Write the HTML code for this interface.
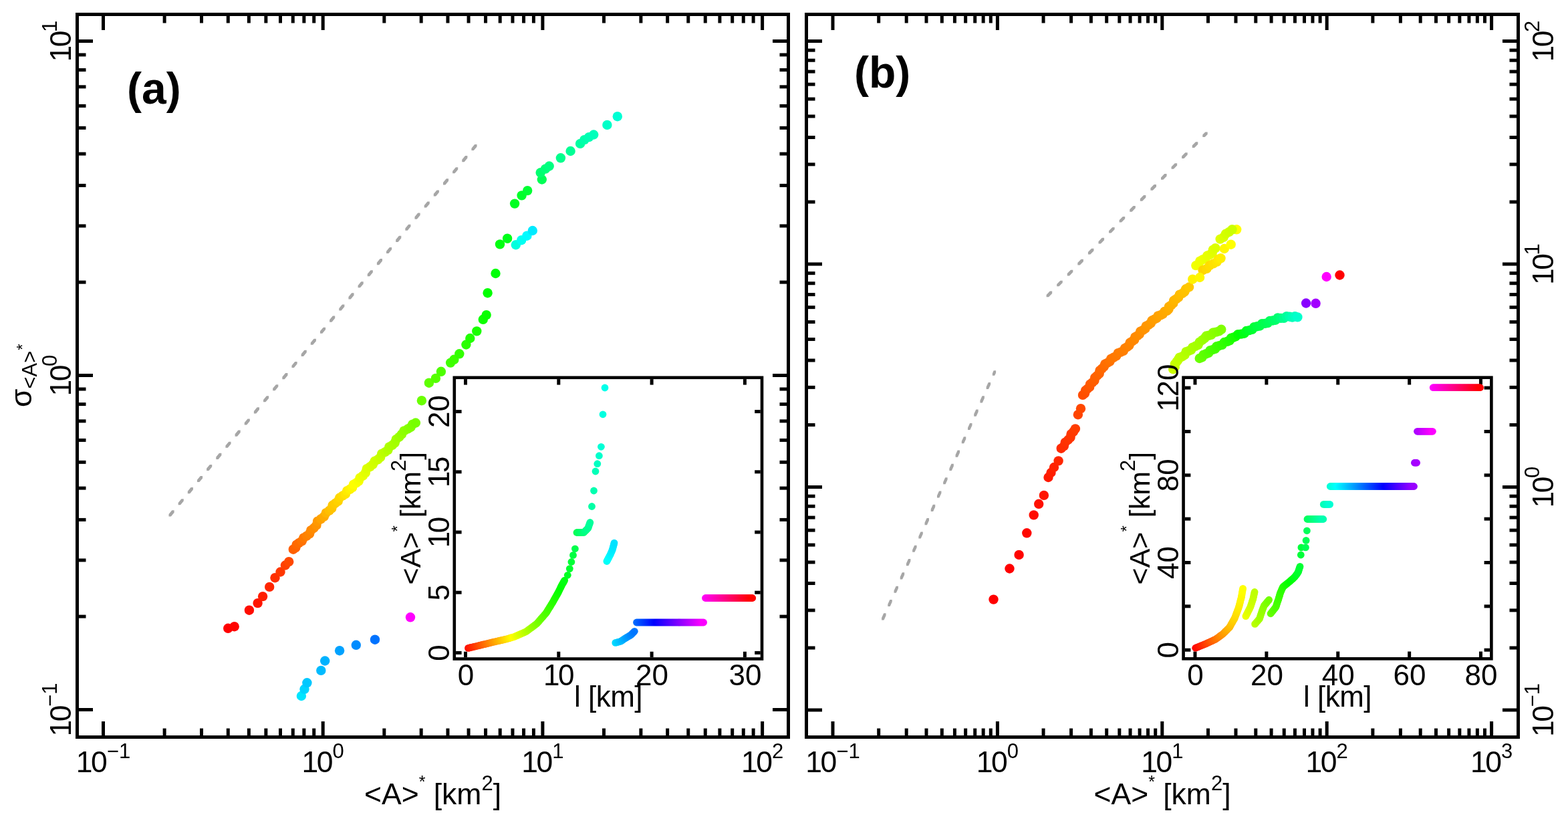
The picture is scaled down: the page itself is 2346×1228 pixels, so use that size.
<!DOCTYPE html>
<html><head><meta charset="utf-8"><title>plot</title><style>html,body{margin:0;padding:0;background:#fff;overflow:hidden}svg{display:block}</style></head><body>
<svg width="2346" height="1228" viewBox="0 0 2346 1228" font-family="'Liberation Sans', sans-serif" shape-rendering="auto">
<rect width="2346" height="1228" fill="#fff"/>
<rect x="115.5" y="21.5" width="1064.0" height="1081.0" fill="none" stroke="#000" stroke-width="5" stroke-linejoin="miter"/>
<line x1="154.50" y1="1100.00" x2="154.50" y2="1079.00" stroke="#000" stroke-width="5" stroke-linecap="butt" />
<line x1="154.50" y1="24.00" x2="154.50" y2="45.00" stroke="#000" stroke-width="5" stroke-linecap="butt" />
<line x1="483.20" y1="1100.00" x2="483.20" y2="1079.00" stroke="#000" stroke-width="5" stroke-linecap="butt" />
<line x1="483.20" y1="24.00" x2="483.20" y2="45.00" stroke="#000" stroke-width="5" stroke-linecap="butt" />
<line x1="811.90" y1="1100.00" x2="811.90" y2="1079.00" stroke="#000" stroke-width="5" stroke-linecap="butt" />
<line x1="811.90" y1="24.00" x2="811.90" y2="45.00" stroke="#000" stroke-width="5" stroke-linecap="butt" />
<line x1="1140.60" y1="1100.00" x2="1140.60" y2="1079.00" stroke="#000" stroke-width="5" stroke-linecap="butt" />
<line x1="1140.60" y1="24.00" x2="1140.60" y2="45.00" stroke="#000" stroke-width="5" stroke-linecap="butt" />
<line x1="246.13" y1="1100.00" x2="246.13" y2="1089.50" stroke="#000" stroke-width="5" stroke-linecap="butt" />
<line x1="246.13" y1="24.00" x2="246.13" y2="34.50" stroke="#000" stroke-width="5" stroke-linecap="butt" />
<line x1="301.48" y1="1100.00" x2="301.48" y2="1089.50" stroke="#000" stroke-width="5" stroke-linecap="butt" />
<line x1="301.48" y1="24.00" x2="301.48" y2="34.50" stroke="#000" stroke-width="5" stroke-linecap="butt" />
<line x1="341.27" y1="1100.00" x2="341.27" y2="1089.50" stroke="#000" stroke-width="5" stroke-linecap="butt" />
<line x1="341.27" y1="24.00" x2="341.27" y2="34.50" stroke="#000" stroke-width="5" stroke-linecap="butt" />
<line x1="372.35" y1="1100.00" x2="372.35" y2="1089.50" stroke="#000" stroke-width="5" stroke-linecap="butt" />
<line x1="372.35" y1="24.00" x2="372.35" y2="34.50" stroke="#000" stroke-width="5" stroke-linecap="butt" />
<line x1="397.86" y1="1100.00" x2="397.86" y2="1089.50" stroke="#000" stroke-width="5" stroke-linecap="butt" />
<line x1="397.86" y1="24.00" x2="397.86" y2="34.50" stroke="#000" stroke-width="5" stroke-linecap="butt" />
<line x1="419.49" y1="1100.00" x2="419.49" y2="1089.50" stroke="#000" stroke-width="5" stroke-linecap="butt" />
<line x1="419.49" y1="24.00" x2="419.49" y2="34.50" stroke="#000" stroke-width="5" stroke-linecap="butt" />
<line x1="438.27" y1="1100.00" x2="438.27" y2="1089.50" stroke="#000" stroke-width="5" stroke-linecap="butt" />
<line x1="438.27" y1="24.00" x2="438.27" y2="34.50" stroke="#000" stroke-width="5" stroke-linecap="butt" />
<line x1="454.87" y1="1100.00" x2="454.87" y2="1089.50" stroke="#000" stroke-width="5" stroke-linecap="butt" />
<line x1="454.87" y1="24.00" x2="454.87" y2="34.50" stroke="#000" stroke-width="5" stroke-linecap="butt" />
<line x1="469.74" y1="1100.00" x2="469.74" y2="1089.50" stroke="#000" stroke-width="5" stroke-linecap="butt" />
<line x1="469.74" y1="24.00" x2="469.74" y2="34.50" stroke="#000" stroke-width="5" stroke-linecap="butt" />
<line x1="574.83" y1="1100.00" x2="574.83" y2="1089.50" stroke="#000" stroke-width="5" stroke-linecap="butt" />
<line x1="574.83" y1="24.00" x2="574.83" y2="34.50" stroke="#000" stroke-width="5" stroke-linecap="butt" />
<line x1="630.18" y1="1100.00" x2="630.18" y2="1089.50" stroke="#000" stroke-width="5" stroke-linecap="butt" />
<line x1="630.18" y1="24.00" x2="630.18" y2="34.50" stroke="#000" stroke-width="5" stroke-linecap="butt" />
<line x1="669.97" y1="1100.00" x2="669.97" y2="1089.50" stroke="#000" stroke-width="5" stroke-linecap="butt" />
<line x1="669.97" y1="24.00" x2="669.97" y2="34.50" stroke="#000" stroke-width="5" stroke-linecap="butt" />
<line x1="701.05" y1="1100.00" x2="701.05" y2="1089.50" stroke="#000" stroke-width="5" stroke-linecap="butt" />
<line x1="701.05" y1="24.00" x2="701.05" y2="34.50" stroke="#000" stroke-width="5" stroke-linecap="butt" />
<line x1="726.56" y1="1100.00" x2="726.56" y2="1089.50" stroke="#000" stroke-width="5" stroke-linecap="butt" />
<line x1="726.56" y1="24.00" x2="726.56" y2="34.50" stroke="#000" stroke-width="5" stroke-linecap="butt" />
<line x1="748.19" y1="1100.00" x2="748.19" y2="1089.50" stroke="#000" stroke-width="5" stroke-linecap="butt" />
<line x1="748.19" y1="24.00" x2="748.19" y2="34.50" stroke="#000" stroke-width="5" stroke-linecap="butt" />
<line x1="766.97" y1="1100.00" x2="766.97" y2="1089.50" stroke="#000" stroke-width="5" stroke-linecap="butt" />
<line x1="766.97" y1="24.00" x2="766.97" y2="34.50" stroke="#000" stroke-width="5" stroke-linecap="butt" />
<line x1="783.57" y1="1100.00" x2="783.57" y2="1089.50" stroke="#000" stroke-width="5" stroke-linecap="butt" />
<line x1="783.57" y1="24.00" x2="783.57" y2="34.50" stroke="#000" stroke-width="5" stroke-linecap="butt" />
<line x1="798.44" y1="1100.00" x2="798.44" y2="1089.50" stroke="#000" stroke-width="5" stroke-linecap="butt" />
<line x1="798.44" y1="24.00" x2="798.44" y2="34.50" stroke="#000" stroke-width="5" stroke-linecap="butt" />
<line x1="903.53" y1="1100.00" x2="903.53" y2="1089.50" stroke="#000" stroke-width="5" stroke-linecap="butt" />
<line x1="903.53" y1="24.00" x2="903.53" y2="34.50" stroke="#000" stroke-width="5" stroke-linecap="butt" />
<line x1="958.88" y1="1100.00" x2="958.88" y2="1089.50" stroke="#000" stroke-width="5" stroke-linecap="butt" />
<line x1="958.88" y1="24.00" x2="958.88" y2="34.50" stroke="#000" stroke-width="5" stroke-linecap="butt" />
<line x1="998.67" y1="1100.00" x2="998.67" y2="1089.50" stroke="#000" stroke-width="5" stroke-linecap="butt" />
<line x1="998.67" y1="24.00" x2="998.67" y2="34.50" stroke="#000" stroke-width="5" stroke-linecap="butt" />
<line x1="1029.75" y1="1100.00" x2="1029.75" y2="1089.50" stroke="#000" stroke-width="5" stroke-linecap="butt" />
<line x1="1029.75" y1="24.00" x2="1029.75" y2="34.50" stroke="#000" stroke-width="5" stroke-linecap="butt" />
<line x1="1055.26" y1="1100.00" x2="1055.26" y2="1089.50" stroke="#000" stroke-width="5" stroke-linecap="butt" />
<line x1="1055.26" y1="24.00" x2="1055.26" y2="34.50" stroke="#000" stroke-width="5" stroke-linecap="butt" />
<line x1="1076.89" y1="1100.00" x2="1076.89" y2="1089.50" stroke="#000" stroke-width="5" stroke-linecap="butt" />
<line x1="1076.89" y1="24.00" x2="1076.89" y2="34.50" stroke="#000" stroke-width="5" stroke-linecap="butt" />
<line x1="1095.67" y1="1100.00" x2="1095.67" y2="1089.50" stroke="#000" stroke-width="5" stroke-linecap="butt" />
<line x1="1095.67" y1="24.00" x2="1095.67" y2="34.50" stroke="#000" stroke-width="5" stroke-linecap="butt" />
<line x1="1112.27" y1="1100.00" x2="1112.27" y2="1089.50" stroke="#000" stroke-width="5" stroke-linecap="butt" />
<line x1="1112.27" y1="24.00" x2="1112.27" y2="34.50" stroke="#000" stroke-width="5" stroke-linecap="butt" />
<line x1="1127.14" y1="1100.00" x2="1127.14" y2="1089.50" stroke="#000" stroke-width="5" stroke-linecap="butt" />
<line x1="1127.14" y1="24.00" x2="1127.14" y2="34.50" stroke="#000" stroke-width="5" stroke-linecap="butt" />
<line x1="118.00" y1="1061.50" x2="139.00" y2="1061.50" stroke="#000" stroke-width="5" stroke-linecap="butt" />
<line x1="1177.00" y1="1061.50" x2="1156.00" y2="1061.50" stroke="#000" stroke-width="5" stroke-linecap="butt" />
<line x1="118.00" y1="561.50" x2="139.00" y2="561.50" stroke="#000" stroke-width="5" stroke-linecap="butt" />
<line x1="1177.00" y1="561.50" x2="1156.00" y2="561.50" stroke="#000" stroke-width="5" stroke-linecap="butt" />
<line x1="118.00" y1="61.50" x2="139.00" y2="61.50" stroke="#000" stroke-width="5" stroke-linecap="butt" />
<line x1="1177.00" y1="61.50" x2="1156.00" y2="61.50" stroke="#000" stroke-width="5" stroke-linecap="butt" />
<line x1="118.00" y1="922.12" x2="128.50" y2="922.12" stroke="#000" stroke-width="5" stroke-linecap="butt" />
<line x1="1177.00" y1="922.12" x2="1166.50" y2="922.12" stroke="#000" stroke-width="5" stroke-linecap="butt" />
<line x1="118.00" y1="837.92" x2="128.50" y2="837.92" stroke="#000" stroke-width="5" stroke-linecap="butt" />
<line x1="1177.00" y1="837.92" x2="1166.50" y2="837.92" stroke="#000" stroke-width="5" stroke-linecap="butt" />
<line x1="118.00" y1="777.40" x2="128.50" y2="777.40" stroke="#000" stroke-width="5" stroke-linecap="butt" />
<line x1="1177.00" y1="777.40" x2="1166.50" y2="777.40" stroke="#000" stroke-width="5" stroke-linecap="butt" />
<line x1="118.00" y1="730.12" x2="128.50" y2="730.12" stroke="#000" stroke-width="5" stroke-linecap="butt" />
<line x1="1177.00" y1="730.12" x2="1166.50" y2="730.12" stroke="#000" stroke-width="5" stroke-linecap="butt" />
<line x1="118.00" y1="691.32" x2="128.50" y2="691.32" stroke="#000" stroke-width="5" stroke-linecap="butt" />
<line x1="1177.00" y1="691.32" x2="1166.50" y2="691.32" stroke="#000" stroke-width="5" stroke-linecap="butt" />
<line x1="118.00" y1="658.41" x2="128.50" y2="658.41" stroke="#000" stroke-width="5" stroke-linecap="butt" />
<line x1="1177.00" y1="658.41" x2="1166.50" y2="658.41" stroke="#000" stroke-width="5" stroke-linecap="butt" />
<line x1="118.00" y1="629.84" x2="128.50" y2="629.84" stroke="#000" stroke-width="5" stroke-linecap="butt" />
<line x1="1177.00" y1="629.84" x2="1166.50" y2="629.84" stroke="#000" stroke-width="5" stroke-linecap="butt" />
<line x1="118.00" y1="604.59" x2="128.50" y2="604.59" stroke="#000" stroke-width="5" stroke-linecap="butt" />
<line x1="1177.00" y1="604.59" x2="1166.50" y2="604.59" stroke="#000" stroke-width="5" stroke-linecap="butt" />
<line x1="118.00" y1="581.98" x2="128.50" y2="581.98" stroke="#000" stroke-width="5" stroke-linecap="butt" />
<line x1="1177.00" y1="581.98" x2="1166.50" y2="581.98" stroke="#000" stroke-width="5" stroke-linecap="butt" />
<line x1="118.00" y1="422.12" x2="128.50" y2="422.12" stroke="#000" stroke-width="5" stroke-linecap="butt" />
<line x1="1177.00" y1="422.12" x2="1166.50" y2="422.12" stroke="#000" stroke-width="5" stroke-linecap="butt" />
<line x1="118.00" y1="337.92" x2="128.50" y2="337.92" stroke="#000" stroke-width="5" stroke-linecap="butt" />
<line x1="1177.00" y1="337.92" x2="1166.50" y2="337.92" stroke="#000" stroke-width="5" stroke-linecap="butt" />
<line x1="118.00" y1="277.40" x2="128.50" y2="277.40" stroke="#000" stroke-width="5" stroke-linecap="butt" />
<line x1="1177.00" y1="277.40" x2="1166.50" y2="277.40" stroke="#000" stroke-width="5" stroke-linecap="butt" />
<line x1="118.00" y1="230.12" x2="128.50" y2="230.12" stroke="#000" stroke-width="5" stroke-linecap="butt" />
<line x1="1177.00" y1="230.12" x2="1166.50" y2="230.12" stroke="#000" stroke-width="5" stroke-linecap="butt" />
<line x1="118.00" y1="191.32" x2="128.50" y2="191.32" stroke="#000" stroke-width="5" stroke-linecap="butt" />
<line x1="1177.00" y1="191.32" x2="1166.50" y2="191.32" stroke="#000" stroke-width="5" stroke-linecap="butt" />
<line x1="118.00" y1="158.41" x2="128.50" y2="158.41" stroke="#000" stroke-width="5" stroke-linecap="butt" />
<line x1="1177.00" y1="158.41" x2="1166.50" y2="158.41" stroke="#000" stroke-width="5" stroke-linecap="butt" />
<line x1="118.00" y1="129.84" x2="128.50" y2="129.84" stroke="#000" stroke-width="5" stroke-linecap="butt" />
<line x1="1177.00" y1="129.84" x2="1166.50" y2="129.84" stroke="#000" stroke-width="5" stroke-linecap="butt" />
<line x1="118.00" y1="104.59" x2="128.50" y2="104.59" stroke="#000" stroke-width="5" stroke-linecap="butt" />
<line x1="1177.00" y1="104.59" x2="1166.50" y2="104.59" stroke="#000" stroke-width="5" stroke-linecap="butt" />
<line x1="118.00" y1="81.98" x2="128.50" y2="81.98" stroke="#000" stroke-width="5" stroke-linecap="butt" />
<line x1="1177.00" y1="81.98" x2="1166.50" y2="81.98" stroke="#000" stroke-width="5" stroke-linecap="butt" />
<rect x="1206.5" y="21.5" width="1065.0" height="1081.0" fill="none" stroke="#000" stroke-width="5" stroke-linejoin="miter"/>
<line x1="1246.00" y1="1100.00" x2="1246.00" y2="1079.00" stroke="#000" stroke-width="5" stroke-linecap="butt" />
<line x1="1246.00" y1="24.00" x2="1246.00" y2="45.00" stroke="#000" stroke-width="5" stroke-linecap="butt" />
<line x1="1492.40" y1="1100.00" x2="1492.40" y2="1079.00" stroke="#000" stroke-width="5" stroke-linecap="butt" />
<line x1="1492.40" y1="24.00" x2="1492.40" y2="45.00" stroke="#000" stroke-width="5" stroke-linecap="butt" />
<line x1="1738.80" y1="1100.00" x2="1738.80" y2="1079.00" stroke="#000" stroke-width="5" stroke-linecap="butt" />
<line x1="1738.80" y1="24.00" x2="1738.80" y2="45.00" stroke="#000" stroke-width="5" stroke-linecap="butt" />
<line x1="1985.20" y1="1100.00" x2="1985.20" y2="1079.00" stroke="#000" stroke-width="5" stroke-linecap="butt" />
<line x1="1985.20" y1="24.00" x2="1985.20" y2="45.00" stroke="#000" stroke-width="5" stroke-linecap="butt" />
<line x1="2231.60" y1="1100.00" x2="2231.60" y2="1079.00" stroke="#000" stroke-width="5" stroke-linecap="butt" />
<line x1="2231.60" y1="24.00" x2="2231.60" y2="45.00" stroke="#000" stroke-width="5" stroke-linecap="butt" />
<line x1="1314.68" y1="1100.00" x2="1314.68" y2="1089.50" stroke="#000" stroke-width="5" stroke-linecap="butt" />
<line x1="1314.68" y1="24.00" x2="1314.68" y2="34.50" stroke="#000" stroke-width="5" stroke-linecap="butt" />
<line x1="1356.18" y1="1100.00" x2="1356.18" y2="1089.50" stroke="#000" stroke-width="5" stroke-linecap="butt" />
<line x1="1356.18" y1="24.00" x2="1356.18" y2="34.50" stroke="#000" stroke-width="5" stroke-linecap="butt" />
<line x1="1386.00" y1="1100.00" x2="1386.00" y2="1089.50" stroke="#000" stroke-width="5" stroke-linecap="butt" />
<line x1="1386.00" y1="24.00" x2="1386.00" y2="34.50" stroke="#000" stroke-width="5" stroke-linecap="butt" />
<line x1="1409.30" y1="1100.00" x2="1409.30" y2="1089.50" stroke="#000" stroke-width="5" stroke-linecap="butt" />
<line x1="1409.30" y1="24.00" x2="1409.30" y2="34.50" stroke="#000" stroke-width="5" stroke-linecap="butt" />
<line x1="1428.43" y1="1100.00" x2="1428.43" y2="1089.50" stroke="#000" stroke-width="5" stroke-linecap="butt" />
<line x1="1428.43" y1="24.00" x2="1428.43" y2="34.50" stroke="#000" stroke-width="5" stroke-linecap="butt" />
<line x1="1444.64" y1="1100.00" x2="1444.64" y2="1089.50" stroke="#000" stroke-width="5" stroke-linecap="butt" />
<line x1="1444.64" y1="24.00" x2="1444.64" y2="34.50" stroke="#000" stroke-width="5" stroke-linecap="butt" />
<line x1="1458.72" y1="1100.00" x2="1458.72" y2="1089.50" stroke="#000" stroke-width="5" stroke-linecap="butt" />
<line x1="1458.72" y1="24.00" x2="1458.72" y2="34.50" stroke="#000" stroke-width="5" stroke-linecap="butt" />
<line x1="1471.16" y1="1100.00" x2="1471.16" y2="1089.50" stroke="#000" stroke-width="5" stroke-linecap="butt" />
<line x1="1471.16" y1="24.00" x2="1471.16" y2="34.50" stroke="#000" stroke-width="5" stroke-linecap="butt" />
<line x1="1482.31" y1="1100.00" x2="1482.31" y2="1089.50" stroke="#000" stroke-width="5" stroke-linecap="butt" />
<line x1="1482.31" y1="24.00" x2="1482.31" y2="34.50" stroke="#000" stroke-width="5" stroke-linecap="butt" />
<line x1="1561.08" y1="1100.00" x2="1561.08" y2="1089.50" stroke="#000" stroke-width="5" stroke-linecap="butt" />
<line x1="1561.08" y1="24.00" x2="1561.08" y2="34.50" stroke="#000" stroke-width="5" stroke-linecap="butt" />
<line x1="1602.58" y1="1100.00" x2="1602.58" y2="1089.50" stroke="#000" stroke-width="5" stroke-linecap="butt" />
<line x1="1602.58" y1="24.00" x2="1602.58" y2="34.50" stroke="#000" stroke-width="5" stroke-linecap="butt" />
<line x1="1632.40" y1="1100.00" x2="1632.40" y2="1089.50" stroke="#000" stroke-width="5" stroke-linecap="butt" />
<line x1="1632.40" y1="24.00" x2="1632.40" y2="34.50" stroke="#000" stroke-width="5" stroke-linecap="butt" />
<line x1="1655.70" y1="1100.00" x2="1655.70" y2="1089.50" stroke="#000" stroke-width="5" stroke-linecap="butt" />
<line x1="1655.70" y1="24.00" x2="1655.70" y2="34.50" stroke="#000" stroke-width="5" stroke-linecap="butt" />
<line x1="1674.83" y1="1100.00" x2="1674.83" y2="1089.50" stroke="#000" stroke-width="5" stroke-linecap="butt" />
<line x1="1674.83" y1="24.00" x2="1674.83" y2="34.50" stroke="#000" stroke-width="5" stroke-linecap="butt" />
<line x1="1691.04" y1="1100.00" x2="1691.04" y2="1089.50" stroke="#000" stroke-width="5" stroke-linecap="butt" />
<line x1="1691.04" y1="24.00" x2="1691.04" y2="34.50" stroke="#000" stroke-width="5" stroke-linecap="butt" />
<line x1="1705.12" y1="1100.00" x2="1705.12" y2="1089.50" stroke="#000" stroke-width="5" stroke-linecap="butt" />
<line x1="1705.12" y1="24.00" x2="1705.12" y2="34.50" stroke="#000" stroke-width="5" stroke-linecap="butt" />
<line x1="1717.56" y1="1100.00" x2="1717.56" y2="1089.50" stroke="#000" stroke-width="5" stroke-linecap="butt" />
<line x1="1717.56" y1="24.00" x2="1717.56" y2="34.50" stroke="#000" stroke-width="5" stroke-linecap="butt" />
<line x1="1728.71" y1="1100.00" x2="1728.71" y2="1089.50" stroke="#000" stroke-width="5" stroke-linecap="butt" />
<line x1="1728.71" y1="24.00" x2="1728.71" y2="34.50" stroke="#000" stroke-width="5" stroke-linecap="butt" />
<line x1="1807.48" y1="1100.00" x2="1807.48" y2="1089.50" stroke="#000" stroke-width="5" stroke-linecap="butt" />
<line x1="1807.48" y1="24.00" x2="1807.48" y2="34.50" stroke="#000" stroke-width="5" stroke-linecap="butt" />
<line x1="1848.98" y1="1100.00" x2="1848.98" y2="1089.50" stroke="#000" stroke-width="5" stroke-linecap="butt" />
<line x1="1848.98" y1="24.00" x2="1848.98" y2="34.50" stroke="#000" stroke-width="5" stroke-linecap="butt" />
<line x1="1878.80" y1="1100.00" x2="1878.80" y2="1089.50" stroke="#000" stroke-width="5" stroke-linecap="butt" />
<line x1="1878.80" y1="24.00" x2="1878.80" y2="34.50" stroke="#000" stroke-width="5" stroke-linecap="butt" />
<line x1="1902.10" y1="1100.00" x2="1902.10" y2="1089.50" stroke="#000" stroke-width="5" stroke-linecap="butt" />
<line x1="1902.10" y1="24.00" x2="1902.10" y2="34.50" stroke="#000" stroke-width="5" stroke-linecap="butt" />
<line x1="1921.23" y1="1100.00" x2="1921.23" y2="1089.50" stroke="#000" stroke-width="5" stroke-linecap="butt" />
<line x1="1921.23" y1="24.00" x2="1921.23" y2="34.50" stroke="#000" stroke-width="5" stroke-linecap="butt" />
<line x1="1937.44" y1="1100.00" x2="1937.44" y2="1089.50" stroke="#000" stroke-width="5" stroke-linecap="butt" />
<line x1="1937.44" y1="24.00" x2="1937.44" y2="34.50" stroke="#000" stroke-width="5" stroke-linecap="butt" />
<line x1="1951.52" y1="1100.00" x2="1951.52" y2="1089.50" stroke="#000" stroke-width="5" stroke-linecap="butt" />
<line x1="1951.52" y1="24.00" x2="1951.52" y2="34.50" stroke="#000" stroke-width="5" stroke-linecap="butt" />
<line x1="1963.96" y1="1100.00" x2="1963.96" y2="1089.50" stroke="#000" stroke-width="5" stroke-linecap="butt" />
<line x1="1963.96" y1="24.00" x2="1963.96" y2="34.50" stroke="#000" stroke-width="5" stroke-linecap="butt" />
<line x1="1975.11" y1="1100.00" x2="1975.11" y2="1089.50" stroke="#000" stroke-width="5" stroke-linecap="butt" />
<line x1="1975.11" y1="24.00" x2="1975.11" y2="34.50" stroke="#000" stroke-width="5" stroke-linecap="butt" />
<line x1="2053.88" y1="1100.00" x2="2053.88" y2="1089.50" stroke="#000" stroke-width="5" stroke-linecap="butt" />
<line x1="2053.88" y1="24.00" x2="2053.88" y2="34.50" stroke="#000" stroke-width="5" stroke-linecap="butt" />
<line x1="2095.38" y1="1100.00" x2="2095.38" y2="1089.50" stroke="#000" stroke-width="5" stroke-linecap="butt" />
<line x1="2095.38" y1="24.00" x2="2095.38" y2="34.50" stroke="#000" stroke-width="5" stroke-linecap="butt" />
<line x1="2125.20" y1="1100.00" x2="2125.20" y2="1089.50" stroke="#000" stroke-width="5" stroke-linecap="butt" />
<line x1="2125.20" y1="24.00" x2="2125.20" y2="34.50" stroke="#000" stroke-width="5" stroke-linecap="butt" />
<line x1="2148.50" y1="1100.00" x2="2148.50" y2="1089.50" stroke="#000" stroke-width="5" stroke-linecap="butt" />
<line x1="2148.50" y1="24.00" x2="2148.50" y2="34.50" stroke="#000" stroke-width="5" stroke-linecap="butt" />
<line x1="2167.63" y1="1100.00" x2="2167.63" y2="1089.50" stroke="#000" stroke-width="5" stroke-linecap="butt" />
<line x1="2167.63" y1="24.00" x2="2167.63" y2="34.50" stroke="#000" stroke-width="5" stroke-linecap="butt" />
<line x1="2183.84" y1="1100.00" x2="2183.84" y2="1089.50" stroke="#000" stroke-width="5" stroke-linecap="butt" />
<line x1="2183.84" y1="24.00" x2="2183.84" y2="34.50" stroke="#000" stroke-width="5" stroke-linecap="butt" />
<line x1="2197.92" y1="1100.00" x2="2197.92" y2="1089.50" stroke="#000" stroke-width="5" stroke-linecap="butt" />
<line x1="2197.92" y1="24.00" x2="2197.92" y2="34.50" stroke="#000" stroke-width="5" stroke-linecap="butt" />
<line x1="2210.36" y1="1100.00" x2="2210.36" y2="1089.50" stroke="#000" stroke-width="5" stroke-linecap="butt" />
<line x1="2210.36" y1="24.00" x2="2210.36" y2="34.50" stroke="#000" stroke-width="5" stroke-linecap="butt" />
<line x1="2221.51" y1="1100.00" x2="2221.51" y2="1089.50" stroke="#000" stroke-width="5" stroke-linecap="butt" />
<line x1="2221.51" y1="24.00" x2="2221.51" y2="34.50" stroke="#000" stroke-width="5" stroke-linecap="butt" />
<line x1="1209.00" y1="1062.00" x2="1230.00" y2="1062.00" stroke="#000" stroke-width="5" stroke-linecap="butt" />
<line x1="2269.00" y1="1062.00" x2="2248.00" y2="1062.00" stroke="#000" stroke-width="5" stroke-linecap="butt" />
<line x1="1209.00" y1="728.50" x2="1230.00" y2="728.50" stroke="#000" stroke-width="5" stroke-linecap="butt" />
<line x1="2269.00" y1="728.50" x2="2248.00" y2="728.50" stroke="#000" stroke-width="5" stroke-linecap="butt" />
<line x1="1209.00" y1="395.00" x2="1230.00" y2="395.00" stroke="#000" stroke-width="5" stroke-linecap="butt" />
<line x1="2269.00" y1="395.00" x2="2248.00" y2="395.00" stroke="#000" stroke-width="5" stroke-linecap="butt" />
<line x1="1209.00" y1="61.50" x2="1230.00" y2="61.50" stroke="#000" stroke-width="5" stroke-linecap="butt" />
<line x1="2269.00" y1="61.50" x2="2248.00" y2="61.50" stroke="#000" stroke-width="5" stroke-linecap="butt" />
<line x1="1209.00" y1="969.04" x2="1219.50" y2="969.04" stroke="#000" stroke-width="5" stroke-linecap="butt" />
<line x1="2269.00" y1="969.04" x2="2258.50" y2="969.04" stroke="#000" stroke-width="5" stroke-linecap="butt" />
<line x1="1209.00" y1="912.87" x2="1219.50" y2="912.87" stroke="#000" stroke-width="5" stroke-linecap="butt" />
<line x1="2269.00" y1="912.87" x2="2258.50" y2="912.87" stroke="#000" stroke-width="5" stroke-linecap="butt" />
<line x1="1209.00" y1="872.50" x2="1219.50" y2="872.50" stroke="#000" stroke-width="5" stroke-linecap="butt" />
<line x1="2269.00" y1="872.50" x2="2258.50" y2="872.50" stroke="#000" stroke-width="5" stroke-linecap="butt" />
<line x1="1209.00" y1="840.97" x2="1219.50" y2="840.97" stroke="#000" stroke-width="5" stroke-linecap="butt" />
<line x1="2269.00" y1="840.97" x2="2258.50" y2="840.97" stroke="#000" stroke-width="5" stroke-linecap="butt" />
<line x1="1209.00" y1="815.09" x2="1219.50" y2="815.09" stroke="#000" stroke-width="5" stroke-linecap="butt" />
<line x1="2269.00" y1="815.09" x2="2258.50" y2="815.09" stroke="#000" stroke-width="5" stroke-linecap="butt" />
<line x1="1209.00" y1="793.14" x2="1219.50" y2="793.14" stroke="#000" stroke-width="5" stroke-linecap="butt" />
<line x1="2269.00" y1="793.14" x2="2258.50" y2="793.14" stroke="#000" stroke-width="5" stroke-linecap="butt" />
<line x1="1209.00" y1="774.08" x2="1219.50" y2="774.08" stroke="#000" stroke-width="5" stroke-linecap="butt" />
<line x1="2269.00" y1="774.08" x2="2258.50" y2="774.08" stroke="#000" stroke-width="5" stroke-linecap="butt" />
<line x1="1209.00" y1="757.24" x2="1219.50" y2="757.24" stroke="#000" stroke-width="5" stroke-linecap="butt" />
<line x1="2269.00" y1="757.24" x2="2258.50" y2="757.24" stroke="#000" stroke-width="5" stroke-linecap="butt" />
<line x1="1209.00" y1="742.16" x2="1219.50" y2="742.16" stroke="#000" stroke-width="5" stroke-linecap="butt" />
<line x1="2269.00" y1="742.16" x2="2258.50" y2="742.16" stroke="#000" stroke-width="5" stroke-linecap="butt" />
<line x1="1209.00" y1="635.54" x2="1219.50" y2="635.54" stroke="#000" stroke-width="5" stroke-linecap="butt" />
<line x1="2269.00" y1="635.54" x2="2258.50" y2="635.54" stroke="#000" stroke-width="5" stroke-linecap="butt" />
<line x1="1209.00" y1="579.37" x2="1219.50" y2="579.37" stroke="#000" stroke-width="5" stroke-linecap="butt" />
<line x1="2269.00" y1="579.37" x2="2258.50" y2="579.37" stroke="#000" stroke-width="5" stroke-linecap="butt" />
<line x1="1209.00" y1="539.00" x2="1219.50" y2="539.00" stroke="#000" stroke-width="5" stroke-linecap="butt" />
<line x1="2269.00" y1="539.00" x2="2258.50" y2="539.00" stroke="#000" stroke-width="5" stroke-linecap="butt" />
<line x1="1209.00" y1="507.47" x2="1219.50" y2="507.47" stroke="#000" stroke-width="5" stroke-linecap="butt" />
<line x1="2269.00" y1="507.47" x2="2258.50" y2="507.47" stroke="#000" stroke-width="5" stroke-linecap="butt" />
<line x1="1209.00" y1="481.59" x2="1219.50" y2="481.59" stroke="#000" stroke-width="5" stroke-linecap="butt" />
<line x1="2269.00" y1="481.59" x2="2258.50" y2="481.59" stroke="#000" stroke-width="5" stroke-linecap="butt" />
<line x1="1209.00" y1="459.64" x2="1219.50" y2="459.64" stroke="#000" stroke-width="5" stroke-linecap="butt" />
<line x1="2269.00" y1="459.64" x2="2258.50" y2="459.64" stroke="#000" stroke-width="5" stroke-linecap="butt" />
<line x1="1209.00" y1="440.58" x2="1219.50" y2="440.58" stroke="#000" stroke-width="5" stroke-linecap="butt" />
<line x1="2269.00" y1="440.58" x2="2258.50" y2="440.58" stroke="#000" stroke-width="5" stroke-linecap="butt" />
<line x1="1209.00" y1="423.74" x2="1219.50" y2="423.74" stroke="#000" stroke-width="5" stroke-linecap="butt" />
<line x1="2269.00" y1="423.74" x2="2258.50" y2="423.74" stroke="#000" stroke-width="5" stroke-linecap="butt" />
<line x1="1209.00" y1="408.66" x2="1219.50" y2="408.66" stroke="#000" stroke-width="5" stroke-linecap="butt" />
<line x1="2269.00" y1="408.66" x2="2258.50" y2="408.66" stroke="#000" stroke-width="5" stroke-linecap="butt" />
<line x1="1209.00" y1="302.04" x2="1219.50" y2="302.04" stroke="#000" stroke-width="5" stroke-linecap="butt" />
<line x1="2269.00" y1="302.04" x2="2258.50" y2="302.04" stroke="#000" stroke-width="5" stroke-linecap="butt" />
<line x1="1209.00" y1="245.87" x2="1219.50" y2="245.87" stroke="#000" stroke-width="5" stroke-linecap="butt" />
<line x1="2269.00" y1="245.87" x2="2258.50" y2="245.87" stroke="#000" stroke-width="5" stroke-linecap="butt" />
<line x1="1209.00" y1="205.50" x2="1219.50" y2="205.50" stroke="#000" stroke-width="5" stroke-linecap="butt" />
<line x1="2269.00" y1="205.50" x2="2258.50" y2="205.50" stroke="#000" stroke-width="5" stroke-linecap="butt" />
<line x1="1209.00" y1="173.97" x2="1219.50" y2="173.97" stroke="#000" stroke-width="5" stroke-linecap="butt" />
<line x1="2269.00" y1="173.97" x2="2258.50" y2="173.97" stroke="#000" stroke-width="5" stroke-linecap="butt" />
<line x1="1209.00" y1="148.09" x2="1219.50" y2="148.09" stroke="#000" stroke-width="5" stroke-linecap="butt" />
<line x1="2269.00" y1="148.09" x2="2258.50" y2="148.09" stroke="#000" stroke-width="5" stroke-linecap="butt" />
<line x1="1209.00" y1="126.14" x2="1219.50" y2="126.14" stroke="#000" stroke-width="5" stroke-linecap="butt" />
<line x1="2269.00" y1="126.14" x2="2258.50" y2="126.14" stroke="#000" stroke-width="5" stroke-linecap="butt" />
<line x1="1209.00" y1="107.08" x2="1219.50" y2="107.08" stroke="#000" stroke-width="5" stroke-linecap="butt" />
<line x1="2269.00" y1="107.08" x2="2258.50" y2="107.08" stroke="#000" stroke-width="5" stroke-linecap="butt" />
<line x1="1209.00" y1="90.24" x2="1219.50" y2="90.24" stroke="#000" stroke-width="5" stroke-linecap="butt" />
<line x1="2269.00" y1="90.24" x2="2258.50" y2="90.24" stroke="#000" stroke-width="5" stroke-linecap="butt" />
<line x1="1209.00" y1="75.16" x2="1219.50" y2="75.16" stroke="#000" stroke-width="5" stroke-linecap="butt" />
<line x1="2269.00" y1="75.16" x2="2258.50" y2="75.16" stroke="#000" stroke-width="5" stroke-linecap="butt" />
<text x="154.5" y="1155" font-size="44.5" text-anchor="middle"><tspan letter-spacing="-2.5">10</tspan><tspan font-size="31" dx="1.5" dy="-21.5">−1</tspan></text>
<text x="483.2" y="1155" font-size="44.5" text-anchor="middle"><tspan letter-spacing="-2.5">10</tspan><tspan font-size="31" dx="1.5" dy="-21.5">0</tspan></text>
<text x="811.9" y="1155" font-size="44.5" text-anchor="middle"><tspan letter-spacing="-2.5">10</tspan><tspan font-size="31" dx="1.5" dy="-21.5">1</tspan></text>
<text x="1140.6" y="1155" font-size="44.5" text-anchor="middle"><tspan letter-spacing="-2.5">10</tspan><tspan font-size="31" dx="1.5" dy="-21.5">2</tspan></text>
<text x="1246.0" y="1155" font-size="44.5" text-anchor="middle"><tspan letter-spacing="-2.5">10</tspan><tspan font-size="31" dx="1.5" dy="-21.5">−1</tspan></text>
<text x="1492.4" y="1155" font-size="44.5" text-anchor="middle"><tspan letter-spacing="-2.5">10</tspan><tspan font-size="31" dx="1.5" dy="-21.5">0</tspan></text>
<text x="1738.8" y="1155" font-size="44.5" text-anchor="middle"><tspan letter-spacing="-2.5">10</tspan><tspan font-size="31" dx="1.5" dy="-21.5">1</tspan></text>
<text x="1985.2" y="1155" font-size="44.5" text-anchor="middle"><tspan letter-spacing="-2.5">10</tspan><tspan font-size="31" dx="1.5" dy="-21.5">2</tspan></text>
<text x="2231.6" y="1155" font-size="44.5" text-anchor="middle"><tspan letter-spacing="-2.5">10</tspan><tspan font-size="31" dx="1.5" dy="-21.5">3</tspan></text>
<text transform="translate(106.0,1061.5) rotate(-90)" x="0" y="0" font-size="44.5" text-anchor="middle"><tspan letter-spacing="-2.5">10</tspan><tspan font-size="31" dy="-21.5">−1</tspan></text>
<text transform="translate(106.0,561.5) rotate(-90)" x="0" y="0" font-size="44.5" text-anchor="middle"><tspan letter-spacing="-2.5">10</tspan><tspan font-size="31" dy="-21.5">0</tspan></text>
<text transform="translate(106.0,61.5) rotate(-90)" x="0" y="0" font-size="44.5" text-anchor="middle"><tspan letter-spacing="-2.5">10</tspan><tspan font-size="31" dy="-21.5">1</tspan></text>
<text transform="translate(2324.0,1062.0) rotate(-90)" x="0" y="0" font-size="44.5" text-anchor="middle"><tspan letter-spacing="-2.5">10</tspan><tspan font-size="31" dy="-21.5">−1</tspan></text>
<text transform="translate(2324.0,728.5) rotate(-90)" x="0" y="0" font-size="44.5" text-anchor="middle"><tspan letter-spacing="-2.5">10</tspan><tspan font-size="31" dy="-21.5">0</tspan></text>
<text transform="translate(2324.0,395.0) rotate(-90)" x="0" y="0" font-size="44.5" text-anchor="middle"><tspan letter-spacing="-2.5">10</tspan><tspan font-size="31" dy="-21.5">1</tspan></text>
<text transform="translate(2324.0,61.5) rotate(-90)" x="0" y="0" font-size="44.5" text-anchor="middle"><tspan letter-spacing="-2.5">10</tspan><tspan font-size="31" dy="-21.5">2</tspan></text>
<text x="647.5" y="1203" font-size="44.5" text-anchor="middle">&lt;A&gt;<tspan font-size="25" dy="-25">*</tspan><tspan dy="25"> [km</tspan><tspan font-size="31" dy="-21.5">2</tspan><tspan dy="21.5">]</tspan></text>
<text x="1739" y="1203" font-size="44.5" text-anchor="middle">&lt;A&gt;<tspan font-size="25" dy="-25">*</tspan><tspan dy="25"> [km</tspan><tspan font-size="31" dy="-21.5">2</tspan><tspan dy="21.5">]</tspan></text>
<text transform="translate(47,609) rotate(-90)" x="0" y="0" font-size="44.5">σ<tspan font-size="31" dy="7.6">&lt;A&gt;</tspan><tspan font-size="24" dx="1" dy="-13">*</tspan></text>
<text x="190" y="154.5" font-size="66" font-weight="bold">(a)</text>
<text x="1278" y="130.5" font-size="66" font-weight="bold">(b)</text>
<path d="M252.50,769.00 L257.22,763.30 L260.62,763.30 L260.62,766.70 L255.90,772.40 L252.50,772.40Z M266.65,751.90 L271.37,746.20 L274.77,746.20 L274.77,749.60 L270.05,755.30 L266.65,755.30Z M280.81,734.79 L285.53,729.09 L288.93,729.09 L288.93,732.49 L284.21,738.19 L280.81,738.19Z M294.96,717.69 L299.68,711.99 L303.08,711.99 L303.08,715.39 L298.36,721.09 L294.96,721.09Z M309.11,700.59 L313.83,694.89 L317.23,694.89 L317.23,698.29 L312.51,703.99 L309.11,703.99Z M323.27,683.48 L327.99,677.78 L331.39,677.78 L331.39,681.18 L326.67,686.88 L323.27,686.88Z M337.42,666.38 L342.14,660.68 L345.54,660.68 L345.54,664.08 L340.82,669.78 L337.42,669.78Z M351.58,649.28 L356.29,643.58 L359.69,643.58 L359.69,646.98 L354.98,652.68 L351.58,652.68Z M365.73,632.18 L370.45,626.47 L373.85,626.47 L373.85,629.87 L369.13,635.58 L365.73,635.58Z M379.88,615.07 L384.60,609.37 L388.00,609.37 L388.00,612.77 L383.28,618.47 L379.88,618.47Z M394.04,597.97 L398.75,592.27 L402.15,592.27 L402.15,595.67 L397.44,601.37 L394.04,601.37Z M408.19,580.87 L412.91,575.17 L416.31,575.17 L416.31,578.57 L411.59,584.27 L408.19,584.27Z M422.34,563.76 L427.06,558.06 L430.46,558.06 L430.46,561.46 L425.74,567.16 L422.34,567.16Z M436.50,546.66 L441.21,540.96 L444.61,540.96 L444.61,544.36 L439.90,550.06 L436.50,550.06Z M450.65,529.56 L455.37,523.86 L458.77,523.86 L458.77,527.26 L454.05,532.96 L450.65,532.96Z M464.80,512.45 L469.52,506.75 L472.92,506.75 L472.92,510.15 L468.20,515.85 L464.80,515.85Z M478.96,495.35 L483.68,489.65 L487.08,489.65 L487.08,493.05 L482.36,498.75 L478.96,498.75Z M493.11,478.25 L497.83,472.55 L501.23,472.55 L501.23,475.95 L496.51,481.65 L493.11,481.65Z M507.27,461.14 L511.98,455.44 L515.38,455.44 L515.38,458.84 L510.67,464.54 L507.27,464.54Z M521.42,444.04 L526.14,438.34 L529.54,438.34 L529.54,441.74 L524.82,447.44 L521.42,447.44Z M535.57,426.94 L540.29,421.24 L543.69,421.24 L543.69,424.64 L538.97,430.34 L535.57,430.34Z M549.73,409.84 L554.44,404.13 L557.84,404.13 L557.84,407.53 L553.13,413.24 L549.73,413.24Z M563.88,392.73 L568.60,387.03 L572.00,387.03 L572.00,390.43 L567.28,396.13 L563.88,396.13Z M578.03,375.63 L582.75,369.93 L586.15,369.93 L586.15,373.33 L581.43,379.03 L578.03,379.03Z M592.19,358.53 L596.90,352.83 L600.30,352.83 L600.30,356.23 L595.59,361.93 L592.19,361.93Z M606.34,341.42 L611.06,335.72 L614.46,335.72 L614.46,339.12 L609.74,344.82 L606.34,344.82Z M620.49,324.32 L625.21,318.62 L628.61,318.62 L628.61,322.02 L623.89,327.72 L620.49,327.72Z M634.65,307.22 L639.37,301.52 L642.77,301.52 L642.77,304.92 L638.05,310.62 L634.65,310.62Z M648.80,290.11 L653.52,284.41 L656.92,284.41 L656.92,287.81 L652.20,293.51 L648.80,293.51Z M662.96,273.01 L667.67,267.31 L671.07,267.31 L671.07,270.71 L666.36,276.41 L662.96,276.41Z M677.11,255.91 L681.83,250.21 L685.23,250.21 L685.23,253.61 L680.51,259.31 L677.11,259.31Z M691.26,238.80 L695.98,233.10 L699.38,233.10 L699.38,236.50 L694.66,242.20 L691.26,242.20Z M705.42,221.70 L710.13,216.00 L713.53,216.00 L713.53,219.40 L708.82,225.10 L705.42,225.10Z" fill="#a6a6a6"/>
<path d="M1319.10,924.00 L1322.16,917.26 L1325.56,917.26 L1325.56,920.66 L1322.50,927.40 L1319.10,927.40Z M1328.31,903.69 L1331.36,896.95 L1334.76,896.95 L1334.76,900.35 L1331.71,907.09 L1328.31,907.09Z M1337.52,883.38 L1340.57,876.64 L1343.97,876.64 L1343.97,880.04 L1340.92,886.78 L1337.52,886.78Z M1346.72,863.07 L1349.78,856.33 L1353.18,856.33 L1353.18,859.73 L1350.12,866.47 L1346.72,866.47Z M1355.93,842.76 L1358.99,836.02 L1362.39,836.02 L1362.39,839.42 L1359.33,846.16 L1355.93,846.16Z M1365.14,822.45 L1368.19,815.71 L1371.59,815.71 L1371.59,819.11 L1368.54,825.85 L1365.14,825.85Z M1374.35,802.14 L1377.40,795.40 L1380.80,795.40 L1380.80,798.80 L1377.75,805.54 L1374.35,805.54Z M1383.55,781.83 L1386.61,775.09 L1390.01,775.09 L1390.01,778.49 L1386.95,785.23 L1383.55,785.23Z M1392.76,761.52 L1395.82,754.78 L1399.22,754.78 L1399.22,758.18 L1396.16,764.92 L1392.76,764.92Z M1401.97,741.21 L1405.02,734.47 L1408.42,734.47 L1408.42,737.87 L1405.37,744.61 L1401.97,744.61Z M1411.18,720.90 L1414.23,714.16 L1417.63,714.16 L1417.63,717.56 L1414.58,724.30 L1411.18,724.30Z M1420.38,700.59 L1423.44,693.85 L1426.84,693.85 L1426.84,697.25 L1423.78,703.99 L1420.38,703.99Z M1429.59,680.28 L1432.65,673.54 L1436.05,673.54 L1436.05,676.94 L1432.99,683.68 L1429.59,683.68Z M1438.80,659.97 L1441.85,653.23 L1445.25,653.23 L1445.25,656.63 L1442.20,663.37 L1438.80,663.37Z M1448.01,639.65 L1451.06,632.91 L1454.46,632.91 L1454.46,636.31 L1451.41,643.05 L1448.01,643.05Z M1457.21,619.34 L1460.27,612.60 L1463.67,612.60 L1463.67,616.00 L1460.61,622.74 L1457.21,622.74Z M1466.42,599.03 L1469.48,592.29 L1472.88,592.29 L1472.88,595.69 L1469.82,602.43 L1466.42,602.43Z M1475.63,578.72 L1478.68,571.98 L1482.08,571.98 L1482.08,575.38 L1479.03,582.12 L1475.63,582.12Z M1484.84,558.41 L1486.70,554.30 L1490.10,554.30 L1490.10,557.70 L1488.24,561.81 L1484.84,561.81Z" fill="#a6a6a6"/>
<path d="M1565.60,440.90 L1570.77,435.61 L1574.17,435.61 L1574.17,439.01 L1569.00,444.30 L1565.60,444.30Z M1581.18,424.95 L1586.35,419.65 L1589.75,419.65 L1589.75,423.05 L1584.58,428.35 L1581.18,428.35Z M1596.76,408.99 L1601.93,403.70 L1605.33,403.70 L1605.33,407.10 L1600.16,412.39 L1596.76,412.39Z M1612.34,393.04 L1617.51,387.74 L1620.91,387.74 L1620.91,391.14 L1615.74,396.44 L1612.34,396.44Z M1627.92,377.08 L1633.09,371.79 L1636.49,371.79 L1636.49,375.19 L1631.32,380.48 L1627.92,380.48Z M1643.50,361.13 L1648.67,355.83 L1652.07,355.83 L1652.07,359.23 L1646.90,364.53 L1643.50,364.53Z M1659.08,345.17 L1664.25,339.88 L1667.65,339.88 L1667.65,343.28 L1662.48,348.57 L1659.08,348.57Z M1674.66,329.22 L1679.83,323.93 L1683.23,323.93 L1683.23,327.33 L1678.06,332.62 L1674.66,332.62Z M1690.24,313.27 L1695.41,307.97 L1698.81,307.97 L1698.81,311.37 L1693.64,316.67 L1690.24,316.67Z M1705.83,297.31 L1711.00,292.02 L1714.40,292.02 L1714.40,295.42 L1709.23,300.71 L1705.83,300.71Z M1721.41,281.36 L1726.58,276.06 L1729.98,276.06 L1729.98,279.46 L1724.81,284.76 L1721.41,284.76Z M1736.99,265.40 L1742.16,260.11 L1745.56,260.11 L1745.56,263.51 L1740.39,268.80 L1736.99,268.80Z M1752.57,249.45 L1757.74,244.16 L1761.14,244.16 L1761.14,247.56 L1755.97,252.85 L1752.57,252.85Z M1768.15,233.50 L1773.32,228.20 L1776.72,228.20 L1776.72,231.60 L1771.55,236.90 L1768.15,236.90Z M1783.73,217.54 L1788.90,212.25 L1792.30,212.25 L1792.30,215.65 L1787.13,220.94 L1783.73,220.94Z M1799.31,201.59 L1803.30,197.50 L1806.70,197.50 L1806.70,200.90 L1802.71,204.99 L1799.31,204.99Z" fill="#a6a6a6"/>
<circle cx="341.2" cy="939.8" r="7.2" fill="#ff0000"/>
<circle cx="350.7" cy="937.2" r="7.2" fill="#ff0400"/>
<circle cx="372.9" cy="912.7" r="7.2" fill="#ff0d00"/>
<circle cx="385.6" cy="902.1" r="7.2" fill="#ff1500"/>
<circle cx="393.1" cy="892.1" r="7.2" fill="#ff1e00"/>
<circle cx="403.2" cy="877.9" r="7.2" fill="#ff2600"/>
<circle cx="411.5" cy="864.2" r="7.2" fill="#ff2f00"/>
<circle cx="419.5" cy="855.5" r="7.2" fill="#ff3700"/>
<circle cx="426.9" cy="845.5" r="7.2" fill="#ff4000"/>
<circle cx="432.2" cy="840.2" r="7.2" fill="#ff4800"/>
<circle cx="438.8" cy="821.7" r="7.2" fill="#ff5e00"/>
<circle cx="442.3" cy="819.2" r="7.2" fill="#ff6200"/>
<circle cx="443.7" cy="814.7" r="7.2" fill="#ff6600"/>
<circle cx="447.2" cy="812.2" r="7.2" fill="#ff6a00"/>
<circle cx="451.7" cy="809.4" r="7.2" fill="#ff7100"/>
<circle cx="454.4" cy="804.4" r="7.2" fill="#ff7800"/>
<circle cx="458.9" cy="801.6" r="7.2" fill="#ff8000"/>
<circle cx="463.1" cy="798.4" r="7.2" fill="#ff8400"/>
<circle cx="465.2" cy="793.2" r="7.2" fill="#ff8800"/>
<circle cx="469.4" cy="790.0" r="7.2" fill="#ff8c00"/>
<circle cx="473.4" cy="785.7" r="7.2" fill="#ff9300"/>
<circle cx="475.1" cy="779.7" r="7.2" fill="#ff9900"/>
<circle cx="480.1" cy="776.3" r="7.2" fill="#ffa200"/>
<circle cx="484.9" cy="772.6" r="7.2" fill="#ffaa00"/>
<circle cx="487.8" cy="767.1" r="7.2" fill="#ffb500"/>
<circle cx="492.8" cy="763.6" r="7.2" fill="#ffbf00"/>
<circle cx="496.2" cy="760.5" r="7.2" fill="#ffc300"/>
<circle cx="497.6" cy="755.8" r="7.2" fill="#ffc800"/>
<circle cx="501.3" cy="753.0" r="7.2" fill="#ffcc00"/>
<circle cx="505.7" cy="749.7" r="7.2" fill="#ffd200"/>
<circle cx="508.2" cy="744.5" r="7.2" fill="#ffd700"/>
<circle cx="512.9" cy="741.4" r="7.2" fill="#ffdd00"/>
<circle cx="516.9" cy="738.8" r="7.2" fill="#ffe400"/>
<circle cx="519.2" cy="734.1" r="7.2" fill="#ffeb00"/>
<circle cx="523.5" cy="731.8" r="7.2" fill="#fff200"/>
<circle cx="527.2" cy="729.1" r="7.2" fill="#fff800"/>
<circle cx="529.0" cy="724.6" r="7.2" fill="#fffd00"/>
<circle cx="533.0" cy="722.3" r="7.2" fill="#fcff00"/>
<circle cx="536.7" cy="719.6" r="7.2" fill="#f7ff00"/>
<circle cx="538.6" cy="714.6" r="7.2" fill="#f0ff00"/>
<circle cx="542.9" cy="711.7" r="7.2" fill="#eaff00"/>
<circle cx="546.8" cy="707.2" r="7.2" fill="#e3ff00"/>
<circle cx="548.8" cy="701.2" r="7.2" fill="#ddff00"/>
<circle cx="553.6" cy="698.1" r="7.2" fill="#d9ff00"/>
<circle cx="557.9" cy="694.6" r="7.2" fill="#d4ff00"/>
<circle cx="560.6" cy="689.8" r="7.2" fill="#d0ff00"/>
<circle cx="565.4" cy="687.3" r="7.2" fill="#ccff00"/>
<circle cx="569.2" cy="683.8" r="7.2" fill="#c6ff00"/>
<circle cx="571.3" cy="678.6" r="7.2" fill="#bfff00"/>
<circle cx="576.1" cy="676.1" r="7.2" fill="#b9ff00"/>
<circle cx="580.4" cy="673.1" r="7.2" fill="#b2ff00"/>
<circle cx="582.5" cy="668.4" r="7.2" fill="#aeff00"/>
<circle cx="586.9" cy="665.9" r="7.2" fill="#aaff00"/>
<circle cx="590.7" cy="662.3" r="7.2" fill="#a6ff00"/>
<circle cx="592.7" cy="657.2" r="7.2" fill="#a2ff00"/>
<circle cx="597.2" cy="653.7" r="7.2" fill="#9bff00"/>
<circle cx="600.9" cy="649.7" r="7.2" fill="#95ff00"/>
<circle cx="604.6" cy="644.4" r="7.2" fill="#8eff00"/>
<circle cx="610.3" cy="641.5" r="7.2" fill="#88ff00"/>
<circle cx="614.5" cy="639.0" r="7.2" fill="#82ff00"/>
<circle cx="617.3" cy="634.6" r="7.2" fill="#7dff00"/>
<circle cx="621.9" cy="632.5" r="7.2" fill="#77ff00"/>
<circle cx="630.9" cy="599.2" r="7.2" fill="#6aff00"/>
<circle cx="641.9" cy="572.7" r="7.2" fill="#5eff00"/>
<circle cx="651.9" cy="565.9" r="7.2" fill="#55ff00"/>
<circle cx="659.9" cy="555.8" r="7.2" fill="#4dff00"/>
<circle cx="674.1" cy="542.6" r="7.2" fill="#40ff00"/>
<circle cx="679.4" cy="537.8" r="7.2" fill="#3cff00"/>
<circle cx="687.3" cy="529.3" r="7.2" fill="#33ff00"/>
<circle cx="697.4" cy="515.5" r="7.2" fill="#2aff00"/>
<circle cx="703.3" cy="506.0" r="7.2" fill="#22ff00"/>
<circle cx="713.3" cy="495.4" r="7.2" fill="#1aff00"/>
<circle cx="722.8" cy="477.8" r="7.2" fill="#0dff00"/>
<circle cx="727.7" cy="471.1" r="7.2" fill="#08ff00"/>
<circle cx="729.6" cy="438.2" r="7.2" fill="#00ff00"/>
<circle cx="741.5" cy="409.0" r="7.2" fill="#00ff08"/>
<circle cx="748.0" cy="365.4" r="7.2" fill="#00ff11"/>
<circle cx="759.1" cy="356.7" r="7.2" fill="#00ff19"/>
<circle cx="770.1" cy="304.6" r="7.2" fill="#00ff22"/>
<circle cx="780.6" cy="292.4" r="7.2" fill="#00ff2a"/>
<circle cx="789.2" cy="285.1" r="7.2" fill="#00ff33"/>
<circle cx="810.8" cy="268.5" r="7.2" fill="#00ff55"/>
<circle cx="808.7" cy="258.3" r="7.2" fill="#00ff6f"/>
<circle cx="816.0" cy="252.6" r="7.2" fill="#00ff77"/>
<circle cx="821.7" cy="248.5" r="7.2" fill="#00ff80"/>
<circle cx="838.9" cy="236.3" r="7.2" fill="#00ff8c"/>
<circle cx="853.6" cy="226.0" r="7.2" fill="#00ff95"/>
<circle cx="868.1" cy="214.9" r="7.2" fill="#00ffa2"/>
<circle cx="874.3" cy="209.1" r="7.2" fill="#00ffaa"/>
<circle cx="881.1" cy="205.1" r="7.2" fill="#00ffb3"/>
<circle cx="888.2" cy="201.5" r="7.2" fill="#00ffbb"/>
<circle cx="908.4" cy="186.9" r="7.2" fill="#00ffc8"/>
<circle cx="923.8" cy="174.2" r="7.2" fill="#00ffd4"/>
<circle cx="771.8" cy="366.2" r="7.2" fill="#00ffdd"/>
<circle cx="780.2" cy="359.2" r="7.2" fill="#00fff2"/>
<circle cx="788.4" cy="352.7" r="7.2" fill="#00fbff"/>
<circle cx="796.8" cy="345.0" r="7.2" fill="#00eaff"/>
<circle cx="450.9" cy="1041.0" r="7.2" fill="#00e5ff"/>
<circle cx="455.5" cy="1030.8" r="7.2" fill="#00d4ff"/>
<circle cx="459.4" cy="1021.3" r="7.2" fill="#00c8ff"/>
<circle cx="480.3" cy="1002.9" r="7.2" fill="#00bbff"/>
<circle cx="486.2" cy="988.5" r="7.2" fill="#00b2ff"/>
<circle cx="508.1" cy="973.2" r="7.2" fill="#00a2ff"/>
<circle cx="532.8" cy="964.8" r="7.2" fill="#008cff"/>
<circle cx="561.0" cy="956.7" r="7.2" fill="#0073ff"/>
<circle cx="614.0" cy="923.3" r="7.2" fill="#ff00ff"/>
<circle cx="1486.5" cy="896.6" r="7.2" fill="#ff0000"/>
<circle cx="1510.5" cy="850.5" r="7.2" fill="#ff0000"/>
<circle cx="1524.6" cy="829.9" r="7.2" fill="#ff0400"/>
<circle cx="1536.3" cy="797.3" r="7.2" fill="#ff0800"/>
<circle cx="1546.7" cy="770.4" r="7.2" fill="#ff0d00"/>
<circle cx="1554.2" cy="753.8" r="7.2" fill="#ff1100"/>
<circle cx="1561.9" cy="740.9" r="7.2" fill="#ff1500"/>
<circle cx="1568.5" cy="714.0" r="7.2" fill="#ff1900"/>
<circle cx="1572.5" cy="707.0" r="7.2" fill="#ff1e00"/>
<circle cx="1577.0" cy="699.0" r="7.2" fill="#ff2200"/>
<circle cx="1583.6" cy="689.4" r="7.2" fill="#ff2600"/>
<circle cx="1587.7" cy="670.7" r="7.2" fill="#ff2a00"/>
<circle cx="1591.9" cy="667.1" r="7.2" fill="#ff2d00"/>
<circle cx="1593.8" cy="661.6" r="7.2" fill="#ff3000"/>
<circle cx="1598.0" cy="658.0" r="7.2" fill="#ff3300"/>
<circle cx="1601.5" cy="654.4" r="7.2" fill="#ff3500"/>
<circle cx="1602.6" cy="649.2" r="7.2" fill="#ff3700"/>
<circle cx="1606.2" cy="645.6" r="7.2" fill="#ff3900"/>
<circle cx="1608.9" cy="641.4" r="7.2" fill="#ff3c00"/>
<circle cx="1612.9" cy="620.2" r="7.2" fill="#ff4400"/>
<circle cx="1617.0" cy="611.2" r="7.2" fill="#ff4800"/>
<circle cx="1620.0" cy="590.9" r="7.2" fill="#ff4d00"/>
<circle cx="1623.1" cy="588.3" r="7.2" fill="#ff4f00"/>
<circle cx="1624.0" cy="584.0" r="7.2" fill="#ff5100"/>
<circle cx="1627.1" cy="581.5" r="7.2" fill="#ff5400"/>
<circle cx="1630.2" cy="578.9" r="7.2" fill="#ff5600"/>
<circle cx="1631.1" cy="574.6" r="7.2" fill="#ff5900"/>
<circle cx="1634.3" cy="572.1" r="7.2" fill="#ff5b00"/>
<circle cx="1637.4" cy="569.4" r="7.2" fill="#ff5e00"/>
<circle cx="1638.2" cy="564.8" r="7.2" fill="#ff6000"/>
<circle cx="1641.5" cy="561.9" r="7.2" fill="#ff6200"/>
<circle cx="1644.7" cy="558.8" r="7.2" fill="#ff6400"/>
<circle cx="1645.5" cy="554.2" r="7.2" fill="#ff6600"/>
<circle cx="1648.8" cy="551.3" r="7.2" fill="#ff6800"/>
<circle cx="1651.8" cy="548.4" r="7.2" fill="#ff6a00"/>
<circle cx="1653.5" cy="544.4" r="7.2" fill="#ff6d00"/>
<circle cx="1657.1" cy="542.6" r="7.2" fill="#ff6f00"/>
<circle cx="1660.6" cy="540.6" r="7.2" fill="#ff7200"/>
<circle cx="1662.3" cy="536.6" r="7.2" fill="#ff7400"/>
<circle cx="1666.0" cy="534.8" r="7.2" fill="#ff7700"/>
<circle cx="1670.2" cy="532.5" r="7.2" fill="#ff7900"/>
<circle cx="1672.8" cy="528.1" r="7.2" fill="#ff7b00"/>
<circle cx="1676.9" cy="526.6" r="7.2" fill="#ff7d00"/>
<circle cx="1680.8" cy="524.8" r="7.2" fill="#ff7e00"/>
<circle cx="1683.0" cy="520.9" r="7.2" fill="#ff8000"/>
<circle cx="1686.5" cy="518.9" r="7.2" fill="#ff8100"/>
<circle cx="1689.5" cy="516.6" r="7.2" fill="#ff8300"/>
<circle cx="1690.7" cy="512.5" r="7.2" fill="#ff8400"/>
<circle cx="1694.1" cy="510.5" r="7.2" fill="#ff8600"/>
<circle cx="1697.2" cy="508.2" r="7.2" fill="#ff8700"/>
<circle cx="1698.3" cy="504.1" r="7.2" fill="#ff8900"/>
<circle cx="1701.8" cy="502.1" r="7.2" fill="#ff8b00"/>
<circle cx="1704.8" cy="499.8" r="7.2" fill="#ff8c00"/>
<circle cx="1706.3" cy="495.7" r="7.2" fill="#ff8e00"/>
<circle cx="1710.0" cy="493.9" r="7.2" fill="#ff9000"/>
<circle cx="1713.3" cy="491.7" r="7.2" fill="#ff9300"/>
<circle cx="1714.9" cy="487.6" r="7.2" fill="#ff9500"/>
<circle cx="1718.6" cy="485.8" r="7.2" fill="#ff9700"/>
<circle cx="1721.9" cy="483.5" r="7.2" fill="#ff9900"/>
<circle cx="1723.4" cy="479.5" r="7.2" fill="#ff9b00"/>
<circle cx="1727.1" cy="477.7" r="7.2" fill="#ff9d00"/>
<circle cx="1730.6" cy="476.0" r="7.2" fill="#ff9f00"/>
<circle cx="1732.7" cy="472.4" r="7.2" fill="#ffa200"/>
<circle cx="1736.6" cy="471.3" r="7.2" fill="#ffa400"/>
<circle cx="1740.0" cy="469.6" r="7.2" fill="#ffa600"/>
<circle cx="1742.2" cy="466.0" r="7.2" fill="#ffa800"/>
<circle cx="1746.1" cy="464.9" r="7.2" fill="#ffaa00"/>
<circle cx="1748.5" cy="462.5" r="7.2" fill="#ffac00"/>
<circle cx="1749.0" cy="458.6" r="7.2" fill="#ffae00"/>
<circle cx="1752.5" cy="456.4" r="7.2" fill="#ffb000"/>
<circle cx="1755.3" cy="453.7" r="7.2" fill="#ffb200"/>
<circle cx="1756.2" cy="449.5" r="7.2" fill="#ffb500"/>
<circle cx="1759.7" cy="447.3" r="7.2" fill="#ffb700"/>
<circle cx="1763.1" cy="444.9" r="7.2" fill="#ffb900"/>
<circle cx="1764.9" cy="440.7" r="7.2" fill="#ffbc00"/>
<circle cx="1769.0" cy="438.9" r="7.2" fill="#ffbe00"/>
<circle cx="1772.3" cy="436.4" r="7.2" fill="#ffc100"/>
<circle cx="1774.2" cy="432.3" r="7.2" fill="#ffc300"/>
<circle cx="1779.1" cy="429.5" r="7.2" fill="#ffc800"/>
<circle cx="1789.3" cy="397.1" r="7.2" fill="#f2ff00"/>
<circle cx="1793.4" cy="394.8" r="7.2" fill="#f1ff00"/>
<circle cx="1795.5" cy="390.4" r="7.2" fill="#efff00"/>
<circle cx="1799.6" cy="388.1" r="7.2" fill="#eeff00"/>
<circle cx="1803.7" cy="386.5" r="7.2" fill="#ebff00"/>
<circle cx="1806.2" cy="382.5" r="7.2" fill="#e8ff00"/>
<circle cx="1810.3" cy="380.9" r="7.2" fill="#e6ff00"/>
<circle cx="1813.7" cy="378.2" r="7.2" fill="#e3ff00"/>
<circle cx="1814.9" cy="373.7" r="7.2" fill="#e0ff00"/>
<circle cx="1818.4" cy="371.1" r="7.2" fill="#ddff00"/>
<circle cx="1799.6" cy="404.2" r="7.2" fill="#ffd400"/>
<circle cx="1805.4" cy="401.9" r="7.2" fill="#ffd900"/>
<circle cx="1809.7" cy="397.2" r="7.2" fill="#ffdd00"/>
<circle cx="1815.3" cy="394.4" r="7.2" fill="#ffe100"/>
<circle cx="1820.7" cy="391.6" r="7.2" fill="#ffe500"/>
<circle cx="1822.8" cy="387.8" r="7.2" fill="#ffea00"/>
<circle cx="1826.5" cy="386.3" r="7.2" fill="#ffee00"/>
<circle cx="1784.3" cy="417.7" r="7.2" fill="#fff200"/>
<circle cx="1795.1" cy="415.0" r="7.2" fill="#fff700"/>
<circle cx="1831.8" cy="372.0" r="7.2" fill="#fff700"/>
<circle cx="1841.7" cy="365.7" r="7.2" fill="#ffff00"/>
<circle cx="1850.2" cy="343.3" r="7.2" fill="#ffff00"/>
<circle cx="1825.6" cy="357.6" r="7.2" fill="#e1ff00"/>
<circle cx="1830.6" cy="354.8" r="7.2" fill="#dbff00"/>
<circle cx="1833.9" cy="349.8" r="7.2" fill="#d4ff00"/>
<circle cx="1839.0" cy="346.9" r="7.2" fill="#d0ff00"/>
<circle cx="1843.5" cy="343.3" r="7.2" fill="#ccff00"/>
<circle cx="1755.2" cy="552.2" r="7.2" fill="#ccff00"/>
<circle cx="1757.8" cy="549.0" r="7.2" fill="#caff00"/>
<circle cx="1757.8" cy="544.5" r="7.2" fill="#c8ff00"/>
<circle cx="1760.4" cy="541.3" r="7.2" fill="#c6ff00"/>
<circle cx="1762.6" cy="538.4" r="7.2" fill="#c3ff00"/>
<circle cx="1764.8" cy="534.7" r="7.2" fill="#bfff00"/>
<circle cx="1768.6" cy="533.5" r="7.2" fill="#bbff00"/>
<circle cx="1772.5" cy="530.9" r="7.2" fill="#b7ff00"/>
<circle cx="1774.6" cy="526.2" r="7.2" fill="#b2ff00"/>
<circle cx="1778.4" cy="524.9" r="7.2" fill="#b0ff00"/>
<circle cx="1782.1" cy="523.4" r="7.2" fill="#adff00"/>
<circle cx="1784.3" cy="519.7" r="7.2" fill="#aaff00"/>
<circle cx="1788.5" cy="517.8" r="7.2" fill="#a7ff00"/>
<circle cx="1792.5" cy="515.8" r="7.2" fill="#a4ff00"/>
<circle cx="1794.8" cy="511.6" r="7.2" fill="#a2ff00"/>
<circle cx="1798.8" cy="508.7" r="7.2" fill="#9dff00"/>
<circle cx="1802.4" cy="505.8" r="7.2" fill="#99ff00"/>
<circle cx="1804.8" cy="502.5" r="7.2" fill="#96ff00"/>
<circle cx="1808.6" cy="501.8" r="7.2" fill="#93ff00"/>
<circle cx="1812.2" cy="500.9" r="7.2" fill="#90ff00"/>
<circle cx="1815.2" cy="497.4" r="7.2" fill="#8cff00"/>
<circle cx="1819.6" cy="496.6" r="7.2" fill="#88ff00"/>
<circle cx="1823.8" cy="495.4" r="7.2" fill="#84ff00"/>
<circle cx="1827.3" cy="492.8" r="7.2" fill="#80ff00"/>
<circle cx="1794.7" cy="536.0" r="7.2" fill="#6aff00"/>
<circle cx="1798.5" cy="534.5" r="7.2" fill="#65ff00"/>
<circle cx="1800.7" cy="530.7" r="7.2" fill="#60ff00"/>
<circle cx="1804.5" cy="529.3" r="7.2" fill="#5aff00"/>
<circle cx="1808.2" cy="527.8" r="7.2" fill="#55ff00"/>
<circle cx="1810.5" cy="524.2" r="7.2" fill="#50ff00"/>
<circle cx="1814.2" cy="523.1" r="7.2" fill="#4bff00"/>
<circle cx="1818.0" cy="521.9" r="7.2" fill="#46ff00"/>
<circle cx="1820.2" cy="518.3" r="7.2" fill="#41ff00"/>
<circle cx="1824.0" cy="517.2" r="7.2" fill="#3cff00"/>
<circle cx="1828.5" cy="515.8" r="7.2" fill="#36ff00"/>
<circle cx="1831.7" cy="512.0" r="7.2" fill="#30ff00"/>
<circle cx="1836.2" cy="510.8" r="7.2" fill="#2aff00"/>
<circle cx="1839.8" cy="509.4" r="7.2" fill="#25ff00"/>
<circle cx="1841.8" cy="505.8" r="7.2" fill="#20ff00"/>
<circle cx="1845.4" cy="504.7" r="7.2" fill="#1bff00"/>
<circle cx="1848.7" cy="503.4" r="7.2" fill="#15ff00"/>
<circle cx="1852.3" cy="500.1" r="7.2" fill="#07ff00"/>
<circle cx="1857.0" cy="499.6" r="7.2" fill="#00ff07"/>
<circle cx="1861.6" cy="498.7" r="7.2" fill="#00ff15"/>
<circle cx="1864.7" cy="495.0" r="7.2" fill="#00ff1e"/>
<circle cx="1869.1" cy="494.1" r="7.2" fill="#00ff26"/>
<circle cx="1873.4" cy="492.8" r="7.2" fill="#00ff2f"/>
<circle cx="1876.4" cy="489.2" r="7.2" fill="#00ff37"/>
<circle cx="1880.9" cy="488.2" r="7.2" fill="#00ff40"/>
<circle cx="1885.0" cy="487.5" r="7.2" fill="#00ff45"/>
<circle cx="1888.2" cy="484.2" r="7.2" fill="#00ff4a"/>
<circle cx="1892.6" cy="483.9" r="7.2" fill="#00ff50"/>
<circle cx="1896.7" cy="483.1" r="7.2" fill="#00ff55"/>
<circle cx="1899.9" cy="479.9" r="7.2" fill="#00ff5b"/>
<circle cx="1904.3" cy="479.5" r="7.2" fill="#00ff62"/>
<circle cx="1908.4" cy="478.7" r="7.2" fill="#00ff68"/>
<circle cx="1911.8" cy="475.4" r="7.2" fill="#00ff6f"/>
<circle cx="1916.4" cy="475.9" r="7.2" fill="#00ff7d"/>
<circle cx="1920.9" cy="475.8" r="7.2" fill="#00ff8c"/>
<circle cx="1925.0" cy="473.2" r="7.2" fill="#00ff9b"/>
<circle cx="1929.6" cy="473.7" r="7.2" fill="#00ffaa"/>
<circle cx="1933.5" cy="474.6" r="7.2" fill="#00ffb5"/>
<circle cx="1937.5" cy="473.1" r="7.2" fill="#00ffc1"/>
<circle cx="1941.4" cy="474.4" r="7.2" fill="#00ffcc"/>
<circle cx="1954.1" cy="453.5" r="7.2" fill="#8800ff"/>
<circle cx="1968.6" cy="453.8" r="7.2" fill="#a200ff"/>
<circle cx="1984.7" cy="414.0" r="7.2" fill="#ff00ff"/>
<circle cx="2004.5" cy="411.5" r="7.2" fill="#ff0000"/>
<rect x="679.8" y="564.8" width="460.20000000000005" height="420.70000000000005" fill="none" stroke="#000" stroke-width="4.6" stroke-linejoin="miter"/>
<line x1="696.50" y1="983.20" x2="696.50" y2="974.70" stroke="#000" stroke-width="5" stroke-linecap="butt" />
<line x1="696.50" y1="567.10" x2="696.50" y2="575.60" stroke="#000" stroke-width="5" stroke-linecap="butt" />
<line x1="835.80" y1="983.20" x2="835.80" y2="974.70" stroke="#000" stroke-width="5" stroke-linecap="butt" />
<line x1="835.80" y1="567.10" x2="835.80" y2="575.60" stroke="#000" stroke-width="5" stroke-linecap="butt" />
<line x1="975.10" y1="983.20" x2="975.10" y2="974.70" stroke="#000" stroke-width="5" stroke-linecap="butt" />
<line x1="975.10" y1="567.10" x2="975.10" y2="575.60" stroke="#000" stroke-width="5" stroke-linecap="butt" />
<line x1="1114.40" y1="983.20" x2="1114.40" y2="974.70" stroke="#000" stroke-width="5" stroke-linecap="butt" />
<line x1="1114.40" y1="567.10" x2="1114.40" y2="575.60" stroke="#000" stroke-width="5" stroke-linecap="butt" />
<line x1="682.10" y1="976.40" x2="690.60" y2="976.40" stroke="#000" stroke-width="5" stroke-linecap="butt" />
<line x1="1137.70" y1="976.40" x2="1129.20" y2="976.40" stroke="#000" stroke-width="5" stroke-linecap="butt" />
<line x1="682.10" y1="886.20" x2="690.60" y2="886.20" stroke="#000" stroke-width="5" stroke-linecap="butt" />
<line x1="1137.70" y1="886.20" x2="1129.20" y2="886.20" stroke="#000" stroke-width="5" stroke-linecap="butt" />
<line x1="682.10" y1="796.00" x2="690.60" y2="796.00" stroke="#000" stroke-width="5" stroke-linecap="butt" />
<line x1="1137.70" y1="796.00" x2="1129.20" y2="796.00" stroke="#000" stroke-width="5" stroke-linecap="butt" />
<line x1="682.10" y1="705.80" x2="690.60" y2="705.80" stroke="#000" stroke-width="5" stroke-linecap="butt" />
<line x1="1137.70" y1="705.80" x2="1129.20" y2="705.80" stroke="#000" stroke-width="5" stroke-linecap="butt" />
<line x1="682.10" y1="615.60" x2="690.60" y2="615.60" stroke="#000" stroke-width="5" stroke-linecap="butt" />
<line x1="1137.70" y1="615.60" x2="1129.20" y2="615.60" stroke="#000" stroke-width="5" stroke-linecap="butt" />
<rect x="1770.6" y="564.7" width="460.8000000000002" height="420.5999999999999" fill="none" stroke="#000" stroke-width="4.6" stroke-linejoin="miter"/>
<line x1="1788.00" y1="983.00" x2="1788.00" y2="974.50" stroke="#000" stroke-width="5" stroke-linecap="butt" />
<line x1="1788.00" y1="567.00" x2="1788.00" y2="575.50" stroke="#000" stroke-width="5" stroke-linecap="butt" />
<line x1="1894.88" y1="983.00" x2="1894.88" y2="974.50" stroke="#000" stroke-width="5" stroke-linecap="butt" />
<line x1="1894.88" y1="567.00" x2="1894.88" y2="575.50" stroke="#000" stroke-width="5" stroke-linecap="butt" />
<line x1="2001.76" y1="983.00" x2="2001.76" y2="974.50" stroke="#000" stroke-width="5" stroke-linecap="butt" />
<line x1="2001.76" y1="567.00" x2="2001.76" y2="575.50" stroke="#000" stroke-width="5" stroke-linecap="butt" />
<line x1="2108.64" y1="983.00" x2="2108.64" y2="974.50" stroke="#000" stroke-width="5" stroke-linecap="butt" />
<line x1="2108.64" y1="567.00" x2="2108.64" y2="575.50" stroke="#000" stroke-width="5" stroke-linecap="butt" />
<line x1="2215.52" y1="983.00" x2="2215.52" y2="974.50" stroke="#000" stroke-width="5" stroke-linecap="butt" />
<line x1="2215.52" y1="567.00" x2="2215.52" y2="575.50" stroke="#000" stroke-width="5" stroke-linecap="butt" />
<line x1="1772.90" y1="972.20" x2="1781.40" y2="972.20" stroke="#000" stroke-width="5" stroke-linecap="butt" />
<line x1="2229.10" y1="972.20" x2="2220.60" y2="972.20" stroke="#000" stroke-width="5" stroke-linecap="butt" />
<line x1="1772.90" y1="906.85" x2="1781.40" y2="906.85" stroke="#000" stroke-width="5" stroke-linecap="butt" />
<line x1="2229.10" y1="906.85" x2="2220.60" y2="906.85" stroke="#000" stroke-width="5" stroke-linecap="butt" />
<line x1="1772.90" y1="841.50" x2="1781.40" y2="841.50" stroke="#000" stroke-width="5" stroke-linecap="butt" />
<line x1="2229.10" y1="841.50" x2="2220.60" y2="841.50" stroke="#000" stroke-width="5" stroke-linecap="butt" />
<line x1="1772.90" y1="776.15" x2="1781.40" y2="776.15" stroke="#000" stroke-width="5" stroke-linecap="butt" />
<line x1="2229.10" y1="776.15" x2="2220.60" y2="776.15" stroke="#000" stroke-width="5" stroke-linecap="butt" />
<line x1="1772.90" y1="710.80" x2="1781.40" y2="710.80" stroke="#000" stroke-width="5" stroke-linecap="butt" />
<line x1="2229.10" y1="710.80" x2="2220.60" y2="710.80" stroke="#000" stroke-width="5" stroke-linecap="butt" />
<line x1="1772.90" y1="645.45" x2="1781.40" y2="645.45" stroke="#000" stroke-width="5" stroke-linecap="butt" />
<line x1="2229.10" y1="645.45" x2="2220.60" y2="645.45" stroke="#000" stroke-width="5" stroke-linecap="butt" />
<line x1="1772.90" y1="580.10" x2="1781.40" y2="580.10" stroke="#000" stroke-width="5" stroke-linecap="butt" />
<line x1="2229.10" y1="580.10" x2="2220.60" y2="580.10" stroke="#000" stroke-width="5" stroke-linecap="butt" />
<circle cx="700.5" cy="969.4" r="5.4" fill="#ff0e00"/>
<circle cx="702.4" cy="969.0" r="5.4" fill="#ff1500"/>
<circle cx="704.2" cy="968.5" r="5.4" fill="#ff1c00"/>
<circle cx="706.1" cy="968.1" r="5.4" fill="#ff2200"/>
<circle cx="707.9" cy="967.6" r="5.4" fill="#ff2900"/>
<circle cx="709.8" cy="967.2" r="5.4" fill="#ff2f00"/>
<circle cx="711.7" cy="966.8" r="5.4" fill="#ff3600"/>
<circle cx="713.5" cy="966.3" r="5.4" fill="#ff3d00"/>
<circle cx="715.4" cy="965.9" r="5.4" fill="#ff4300"/>
<circle cx="717.2" cy="965.4" r="5.4" fill="#ff4a00"/>
<circle cx="719.1" cy="965.0" r="5.4" fill="#ff5100"/>
<circle cx="721.1" cy="964.5" r="5.4" fill="#ff5800"/>
<circle cx="723.0" cy="964.0" r="5.4" fill="#ff5f00"/>
<circle cx="725.0" cy="963.6" r="5.4" fill="#ff6600"/>
<circle cx="726.9" cy="963.1" r="5.4" fill="#ff6d00"/>
<circle cx="728.9" cy="962.6" r="5.4" fill="#ff7400"/>
<circle cx="730.9" cy="962.1" r="5.4" fill="#ff7b00"/>
<circle cx="732.8" cy="961.6" r="5.4" fill="#ff8200"/>
<circle cx="734.8" cy="961.2" r="5.4" fill="#ff8900"/>
<circle cx="736.7" cy="960.7" r="5.4" fill="#ff9000"/>
<circle cx="738.7" cy="960.2" r="5.4" fill="#ff9700"/>
<circle cx="740.7" cy="959.8" r="5.4" fill="#ff9e00"/>
<circle cx="742.6" cy="959.3" r="5.4" fill="#ffa500"/>
<circle cx="744.6" cy="958.9" r="5.4" fill="#ffac00"/>
<circle cx="746.5" cy="958.4" r="5.4" fill="#ffb200"/>
<circle cx="748.5" cy="958.0" r="5.4" fill="#ffb900"/>
<circle cx="750.4" cy="957.6" r="5.4" fill="#ffc000"/>
<circle cx="752.4" cy="957.1" r="5.4" fill="#ffc700"/>
<circle cx="754.3" cy="956.7" r="5.4" fill="#ffce00"/>
<circle cx="756.2" cy="956.2" r="5.4" fill="#ffd500"/>
<circle cx="758.2" cy="955.8" r="5.4" fill="#ffdc00"/>
<circle cx="760.2" cy="955.2" r="5.4" fill="#ffe300"/>
<circle cx="762.1" cy="954.6" r="5.4" fill="#ffea00"/>
<circle cx="764.0" cy="954.0" r="5.4" fill="#fff100"/>
<circle cx="766.0" cy="953.5" r="5.4" fill="#fff800"/>
<circle cx="768.0" cy="952.9" r="5.4" fill="#ffff00"/>
<circle cx="769.9" cy="952.3" r="5.4" fill="#f8ff00"/>
<circle cx="771.7" cy="951.5" r="5.4" fill="#f2ff00"/>
<circle cx="773.4" cy="950.7" r="5.4" fill="#ebff00"/>
<circle cx="775.2" cy="950.0" r="5.4" fill="#e5ff00"/>
<circle cx="776.9" cy="949.2" r="5.4" fill="#dfff00"/>
<circle cx="778.7" cy="948.4" r="5.4" fill="#d9ff00"/>
<circle cx="780.5" cy="947.6" r="5.4" fill="#d2ff00"/>
<circle cx="782.2" cy="946.8" r="5.4" fill="#ccff00"/>
<circle cx="784.0" cy="946.1" r="5.4" fill="#c6ff00"/>
<circle cx="785.7" cy="945.3" r="5.4" fill="#bfff00"/>
<circle cx="787.5" cy="944.5" r="5.4" fill="#b9ff00"/>
<circle cx="789.1" cy="943.3" r="5.4" fill="#b4ff00"/>
<circle cx="790.6" cy="942.2" r="5.4" fill="#aeff00"/>
<circle cx="792.2" cy="941.0" r="5.4" fill="#a8ff00"/>
<circle cx="793.8" cy="939.8" r="5.4" fill="#a3ff00"/>
<circle cx="795.4" cy="938.6" r="5.4" fill="#9dff00"/>
<circle cx="796.9" cy="937.5" r="5.4" fill="#98ff00"/>
<circle cx="798.5" cy="936.3" r="5.4" fill="#92ff00"/>
<circle cx="800.1" cy="935.1" r="5.4" fill="#8cff00"/>
<circle cx="801.6" cy="934.0" r="5.4" fill="#87ff00"/>
<circle cx="803.2" cy="932.8" r="5.4" fill="#81ff00"/>
<circle cx="804.6" cy="931.2" r="5.4" fill="#7cff00"/>
<circle cx="805.9" cy="929.7" r="5.4" fill="#77ff00"/>
<circle cx="807.3" cy="928.1" r="5.4" fill="#72ff00"/>
<circle cx="808.7" cy="926.5" r="5.4" fill="#6eff00"/>
<circle cx="810.0" cy="925.0" r="5.4" fill="#69ff00"/>
<circle cx="811.4" cy="923.4" r="5.4" fill="#64ff00"/>
<circle cx="812.8" cy="921.8" r="5.4" fill="#5fff00"/>
<circle cx="814.2" cy="920.2" r="5.4" fill="#5aff00"/>
<circle cx="815.5" cy="918.7" r="5.4" fill="#55ff00"/>
<circle cx="816.9" cy="917.1" r="5.4" fill="#50ff00"/>
<circle cx="818.0" cy="915.4" r="5.4" fill="#4cff00"/>
<circle cx="819.1" cy="913.6" r="5.4" fill="#49ff00"/>
<circle cx="820.1" cy="911.9" r="5.4" fill="#45ff00"/>
<circle cx="821.2" cy="910.2" r="5.4" fill="#41ff00"/>
<circle cx="822.3" cy="908.4" r="5.4" fill="#3dff00"/>
<circle cx="823.4" cy="906.7" r="5.4" fill="#39ff00"/>
<circle cx="824.4" cy="905.0" r="5.4" fill="#35ff00"/>
<circle cx="825.5" cy="903.2" r="5.4" fill="#31ff00"/>
<circle cx="826.6" cy="901.5" r="5.4" fill="#2eff00"/>
<circle cx="827.6" cy="899.8" r="5.4" fill="#2aff00"/>
<circle cx="828.6" cy="898.0" r="5.4" fill="#27ff00"/>
<circle cx="829.5" cy="896.3" r="5.4" fill="#23ff00"/>
<circle cx="830.5" cy="894.6" r="5.4" fill="#20ff00"/>
<circle cx="831.5" cy="892.8" r="5.4" fill="#1cff00"/>
<circle cx="832.5" cy="891.1" r="5.4" fill="#19ff00"/>
<circle cx="833.4" cy="889.4" r="5.4" fill="#15ff00"/>
<circle cx="834.4" cy="887.6" r="5.4" fill="#12ff00"/>
<circle cx="835.4" cy="885.9" r="5.4" fill="#0eff00"/>
<circle cx="836.3" cy="884.0" r="5.4" fill="#0bff00"/>
<circle cx="837.2" cy="882.2" r="5.4" fill="#08ff00"/>
<circle cx="838.1" cy="880.3" r="5.4" fill="#05ff00"/>
<circle cx="839.0" cy="878.4" r="5.4" fill="#01ff00"/>
<circle cx="839.9" cy="876.6" r="5.4" fill="#00ff02"/>
<circle cx="840.8" cy="874.7" r="5.4" fill="#00ff05"/>
<circle cx="841.8" cy="873.1" r="5.4" fill="#00ff09"/>
<circle cx="842.8" cy="871.4" r="5.4" fill="#00ff0c"/>
<circle cx="843.7" cy="869.8" r="5.4" fill="#00ff10"/>
<circle cx="844.7" cy="868.1" r="5.4" fill="#00ff13"/>
<circle cx="849.3" cy="860.3" r="5.4" fill="#00ff23"/>
<circle cx="852.3" cy="850.6" r="5.4" fill="#00ff2e"/>
<circle cx="854.9" cy="840.5" r="5.4" fill="#00ff37"/>
<circle cx="857.5" cy="830.4" r="5.4" fill="#00ff41"/>
<circle cx="860.4" cy="820.8" r="5.4" fill="#00ff4b"/>
<circle cx="863.0" cy="796.5" r="5.4" fill="#00ff54"/>
<circle cx="865.1" cy="796.5" r="5.4" fill="#00ff5c"/>
<circle cx="867.2" cy="796.5" r="5.4" fill="#00ff63"/>
<circle cx="869.2" cy="796.5" r="5.4" fill="#00ff6b"/>
<circle cx="871.3" cy="796.5" r="5.4" fill="#00ff72"/>
<circle cx="873.4" cy="796.5" r="5.4" fill="#00ff79"/>
<circle cx="874.7" cy="795.2" r="5.4" fill="#00ff7e"/>
<circle cx="876.0" cy="793.9" r="5.4" fill="#00ff83"/>
<circle cx="877.3" cy="792.6" r="5.4" fill="#00ff87"/>
<circle cx="878.6" cy="791.3" r="5.4" fill="#00ff8c"/>
<circle cx="879.9" cy="790.0" r="5.4" fill="#00ff91"/>
<circle cx="880.6" cy="787.9" r="5.4" fill="#00ff93"/>
<circle cx="881.3" cy="785.8" r="5.4" fill="#00ff96"/>
<circle cx="882.1" cy="783.6" r="5.4" fill="#00ff98"/>
<circle cx="882.8" cy="781.5" r="5.4" fill="#00ff9b"/>
<circle cx="885.5" cy="757.5" r="5.4" fill="#00ffa5"/>
<circle cx="888.5" cy="734.0" r="5.4" fill="#00ffaf"/>
<circle cx="891.0" cy="705.0" r="5.4" fill="#00ffb8"/>
<circle cx="893.8" cy="693.7" r="5.4" fill="#00ffc2"/>
<circle cx="896.4" cy="681.7" r="5.4" fill="#00ffcc"/>
<circle cx="899.4" cy="668.3" r="5.4" fill="#00ffd6"/>
<circle cx="902.0" cy="619.8" r="5.4" fill="#00ffe0"/>
<circle cx="905.0" cy="580.0" r="5.4" fill="#00ffea"/>
<circle cx="907.9" cy="839.5" r="5.4" fill="#00fff5"/>
<circle cx="908.8" cy="837.9" r="5.4" fill="#00fff8"/>
<circle cx="909.6" cy="836.2" r="5.4" fill="#00fffb"/>
<circle cx="910.5" cy="834.6" r="5.4" fill="#00fffe"/>
<circle cx="911.4" cy="833.0" r="5.4" fill="#00fdff"/>
<circle cx="912.2" cy="831.3" r="5.4" fill="#00faff"/>
<circle cx="913.1" cy="829.7" r="5.4" fill="#00f7ff"/>
<circle cx="913.9" cy="827.8" r="5.4" fill="#00f4ff"/>
<circle cx="914.8" cy="825.8" r="5.4" fill="#00f1ff"/>
<circle cx="915.6" cy="823.9" r="5.4" fill="#00eeff"/>
<circle cx="916.4" cy="821.9" r="5.4" fill="#00ebff"/>
<circle cx="916.9" cy="819.9" r="5.4" fill="#00e9ff"/>
<circle cx="917.4" cy="818.0" r="5.4" fill="#00e7ff"/>
<circle cx="918.0" cy="816.0" r="5.4" fill="#00e5ff"/>
<circle cx="918.5" cy="814.1" r="5.4" fill="#00e4ff"/>
<circle cx="919.0" cy="812.1" r="5.4" fill="#00e2ff"/>
<circle cx="920.8" cy="961.4" r="5.4" fill="#00dbff"/>
<circle cx="922.8" cy="960.9" r="5.4" fill="#00d4ff"/>
<circle cx="924.8" cy="960.3" r="5.4" fill="#00cdff"/>
<circle cx="926.8" cy="959.8" r="5.4" fill="#00c6ff"/>
<circle cx="928.8" cy="959.2" r="5.4" fill="#00bfff"/>
<circle cx="930.5" cy="958.1" r="5.4" fill="#00b9ff"/>
<circle cx="932.2" cy="956.9" r="5.4" fill="#00b3ff"/>
<circle cx="933.9" cy="955.8" r="5.4" fill="#00adff"/>
<circle cx="935.6" cy="954.6" r="5.4" fill="#00a7ff"/>
<circle cx="937.2" cy="953.7" r="5.4" fill="#00a1ff"/>
<circle cx="938.8" cy="952.8" r="5.4" fill="#009bff"/>
<circle cx="940.4" cy="951.8" r="5.4" fill="#0095ff"/>
<circle cx="942.0" cy="950.9" r="5.4" fill="#0090ff"/>
<circle cx="943.6" cy="950.0" r="5.4" fill="#008aff"/>
<circle cx="945.0" cy="948.6" r="5.4" fill="#0085ff"/>
<circle cx="946.5" cy="947.1" r="5.4" fill="#0080ff"/>
<circle cx="947.9" cy="945.7" r="5.4" fill="#007bff"/>
<circle cx="949.3" cy="944.3" r="5.4" fill="#0076ff"/>
<circle cx="952.5" cy="931.0" r="5.4" fill="#006aff"/>
<circle cx="954.5" cy="931.0" r="5.4" fill="#0063ff"/>
<circle cx="956.5" cy="931.0" r="5.4" fill="#005cff"/>
<circle cx="958.5" cy="931.0" r="5.4" fill="#0055ff"/>
<circle cx="960.5" cy="931.0" r="5.4" fill="#004eff"/>
<circle cx="962.5" cy="931.0" r="5.4" fill="#0046ff"/>
<circle cx="964.5" cy="931.0" r="5.4" fill="#003fff"/>
<circle cx="966.5" cy="931.0" r="5.4" fill="#0038ff"/>
<circle cx="968.5" cy="931.0" r="5.4" fill="#0031ff"/>
<circle cx="970.5" cy="931.0" r="5.4" fill="#002aff"/>
<circle cx="972.5" cy="931.0" r="5.4" fill="#0023ff"/>
<circle cx="974.5" cy="931.0" r="5.4" fill="#001cff"/>
<circle cx="976.5" cy="931.0" r="5.4" fill="#0014ff"/>
<circle cx="978.5" cy="931.0" r="5.4" fill="#000dff"/>
<circle cx="980.5" cy="931.0" r="5.4" fill="#0006ff"/>
<circle cx="982.5" cy="931.0" r="5.4" fill="#0100ff"/>
<circle cx="984.5" cy="931.0" r="5.4" fill="#0800ff"/>
<circle cx="986.5" cy="931.0" r="5.4" fill="#0f00ff"/>
<circle cx="988.5" cy="931.0" r="5.4" fill="#1600ff"/>
<circle cx="990.5" cy="931.0" r="5.4" fill="#1e00ff"/>
<circle cx="992.5" cy="931.0" r="5.4" fill="#2500ff"/>
<circle cx="994.5" cy="931.0" r="5.4" fill="#2c00ff"/>
<circle cx="996.5" cy="931.0" r="5.4" fill="#3300ff"/>
<circle cx="998.5" cy="931.0" r="5.4" fill="#3a00ff"/>
<circle cx="1000.5" cy="931.0" r="5.4" fill="#4100ff"/>
<circle cx="1002.5" cy="931.0" r="5.4" fill="#4800ff"/>
<circle cx="1004.6" cy="931.0" r="5.4" fill="#5000ff"/>
<circle cx="1006.6" cy="931.0" r="5.4" fill="#5700ff"/>
<circle cx="1008.6" cy="931.0" r="5.4" fill="#5e00ff"/>
<circle cx="1010.6" cy="931.0" r="5.4" fill="#6500ff"/>
<circle cx="1012.6" cy="931.0" r="5.4" fill="#6c00ff"/>
<circle cx="1014.6" cy="931.0" r="5.4" fill="#7300ff"/>
<circle cx="1016.6" cy="931.0" r="5.4" fill="#7b00ff"/>
<circle cx="1018.6" cy="931.0" r="5.4" fill="#8200ff"/>
<circle cx="1020.6" cy="931.0" r="5.4" fill="#8900ff"/>
<circle cx="1022.6" cy="931.0" r="5.4" fill="#9000ff"/>
<circle cx="1024.6" cy="931.0" r="5.4" fill="#9700ff"/>
<circle cx="1026.6" cy="931.0" r="5.4" fill="#9e00ff"/>
<circle cx="1028.6" cy="931.0" r="5.4" fill="#a500ff"/>
<circle cx="1030.6" cy="931.0" r="5.4" fill="#ad00ff"/>
<circle cx="1032.6" cy="931.0" r="5.4" fill="#b400ff"/>
<circle cx="1034.6" cy="931.0" r="5.4" fill="#bb00ff"/>
<circle cx="1036.6" cy="931.0" r="5.4" fill="#c200ff"/>
<circle cx="1038.6" cy="931.0" r="5.4" fill="#c900ff"/>
<circle cx="1040.6" cy="931.0" r="5.4" fill="#d000ff"/>
<circle cx="1042.6" cy="931.0" r="5.4" fill="#d700ff"/>
<circle cx="1044.6" cy="931.0" r="5.4" fill="#df00ff"/>
<circle cx="1046.6" cy="931.0" r="5.4" fill="#e600ff"/>
<circle cx="1048.6" cy="931.0" r="5.4" fill="#ed00ff"/>
<circle cx="1050.6" cy="931.0" r="5.4" fill="#f400ff"/>
<circle cx="1052.6" cy="931.0" r="5.4" fill="#fb00ff"/>
<circle cx="1055.5" cy="894.5" r="5.4" fill="#ff00f9"/>
<circle cx="1057.5" cy="894.5" r="5.4" fill="#ff00f1"/>
<circle cx="1059.5" cy="894.5" r="5.4" fill="#ff00ea"/>
<circle cx="1061.5" cy="894.5" r="5.4" fill="#ff00e3"/>
<circle cx="1063.5" cy="894.5" r="5.4" fill="#ff00dc"/>
<circle cx="1065.5" cy="894.5" r="5.4" fill="#ff00d5"/>
<circle cx="1067.5" cy="894.5" r="5.4" fill="#ff00ce"/>
<circle cx="1069.5" cy="894.5" r="5.4" fill="#ff00c6"/>
<circle cx="1071.5" cy="894.5" r="5.4" fill="#ff00bf"/>
<circle cx="1073.6" cy="894.5" r="5.4" fill="#ff00b8"/>
<circle cx="1075.6" cy="894.5" r="5.4" fill="#ff00b1"/>
<circle cx="1077.6" cy="894.5" r="5.4" fill="#ff00aa"/>
<circle cx="1079.6" cy="894.5" r="5.4" fill="#ff00a3"/>
<circle cx="1081.6" cy="894.5" r="5.4" fill="#ff009b"/>
<circle cx="1083.6" cy="894.5" r="5.4" fill="#ff0094"/>
<circle cx="1085.6" cy="894.5" r="5.4" fill="#ff008d"/>
<circle cx="1087.6" cy="894.5" r="5.4" fill="#ff0086"/>
<circle cx="1089.6" cy="894.5" r="5.4" fill="#ff007f"/>
<circle cx="1091.6" cy="894.5" r="5.4" fill="#ff0078"/>
<circle cx="1093.6" cy="894.5" r="5.4" fill="#ff0070"/>
<circle cx="1095.6" cy="894.5" r="5.4" fill="#ff0069"/>
<circle cx="1097.6" cy="894.5" r="5.4" fill="#ff0062"/>
<circle cx="1099.6" cy="894.5" r="5.4" fill="#ff005b"/>
<circle cx="1101.6" cy="894.5" r="5.4" fill="#ff0054"/>
<circle cx="1103.6" cy="894.5" r="5.4" fill="#ff004d"/>
<circle cx="1105.6" cy="894.5" r="5.4" fill="#ff0046"/>
<circle cx="1107.6" cy="894.5" r="5.4" fill="#ff003e"/>
<circle cx="1109.7" cy="894.5" r="5.4" fill="#ff0037"/>
<circle cx="1111.7" cy="894.5" r="5.4" fill="#ff0030"/>
<circle cx="1113.7" cy="894.5" r="5.4" fill="#ff0029"/>
<circle cx="1115.7" cy="894.5" r="5.4" fill="#ff0022"/>
<circle cx="1117.7" cy="894.5" r="5.4" fill="#ff001b"/>
<circle cx="1119.7" cy="894.5" r="5.4" fill="#ff0013"/>
<circle cx="1121.7" cy="894.5" r="5.4" fill="#ff000c"/>
<circle cx="1123.7" cy="894.5" r="5.4" fill="#ff0005"/>
<circle cx="1125.7" cy="894.5" r="5.4" fill="#ff0200"/>
<circle cx="1788.7" cy="969.2" r="5.4" fill="#ff0300"/>
<circle cx="1790.7" cy="968.4" r="5.4" fill="#ff0900"/>
<circle cx="1792.6" cy="967.6" r="5.4" fill="#ff1000"/>
<circle cx="1794.5" cy="966.8" r="5.4" fill="#ff1700"/>
<circle cx="1796.5" cy="966.0" r="5.4" fill="#ff1e00"/>
<circle cx="1798.5" cy="965.3" r="5.4" fill="#ff2500"/>
<circle cx="1800.4" cy="964.5" r="5.4" fill="#ff2c00"/>
<circle cx="1802.3" cy="963.7" r="5.4" fill="#ff3300"/>
<circle cx="1804.3" cy="962.9" r="5.4" fill="#ff3a00"/>
<circle cx="1806.1" cy="962.0" r="5.4" fill="#ff4100"/>
<circle cx="1808.0" cy="961.2" r="5.4" fill="#ff4700"/>
<circle cx="1809.8" cy="960.3" r="5.4" fill="#ff4e00"/>
<circle cx="1811.7" cy="959.5" r="5.4" fill="#ff5500"/>
<circle cx="1813.5" cy="958.6" r="5.4" fill="#ff5b00"/>
<circle cx="1815.3" cy="957.7" r="5.4" fill="#ff6200"/>
<circle cx="1817.2" cy="956.9" r="5.4" fill="#ff6800"/>
<circle cx="1819.0" cy="956.0" r="5.4" fill="#ff6f00"/>
<circle cx="1820.5" cy="954.9" r="5.4" fill="#ff7400"/>
<circle cx="1822.1" cy="953.8" r="5.4" fill="#ff7a00"/>
<circle cx="1823.6" cy="952.7" r="5.4" fill="#ff7f00"/>
<circle cx="1825.1" cy="951.5" r="5.4" fill="#ff8500"/>
<circle cx="1826.6" cy="950.4" r="5.4" fill="#ff8a00"/>
<circle cx="1828.2" cy="949.3" r="5.4" fill="#ff9000"/>
<circle cx="1829.7" cy="948.2" r="5.4" fill="#ff9500"/>
<circle cx="1831.1" cy="946.8" r="5.4" fill="#ff9a00"/>
<circle cx="1832.5" cy="945.4" r="5.4" fill="#ff9f00"/>
<circle cx="1833.9" cy="944.0" r="5.4" fill="#ffa400"/>
<circle cx="1835.3" cy="942.6" r="5.4" fill="#ffa900"/>
<circle cx="1836.7" cy="941.2" r="5.4" fill="#ffae00"/>
<circle cx="1838.1" cy="939.8" r="5.4" fill="#ffb300"/>
<circle cx="1839.5" cy="938.4" r="5.4" fill="#ffb800"/>
<circle cx="1840.5" cy="936.7" r="5.4" fill="#ffbc00"/>
<circle cx="1841.5" cy="935.0" r="5.4" fill="#ffbf00"/>
<circle cx="1842.4" cy="933.3" r="5.4" fill="#ffc300"/>
<circle cx="1843.4" cy="931.5" r="5.4" fill="#ffc600"/>
<circle cx="1844.4" cy="929.8" r="5.4" fill="#ffca00"/>
<circle cx="1845.3" cy="928.1" r="5.4" fill="#ffcd00"/>
<circle cx="1846.3" cy="926.4" r="5.4" fill="#ffd100"/>
<circle cx="1847.3" cy="924.7" r="5.4" fill="#ffd400"/>
<circle cx="1848.0" cy="922.8" r="5.4" fill="#ffd700"/>
<circle cx="1848.8" cy="920.8" r="5.4" fill="#ffda00"/>
<circle cx="1849.5" cy="918.9" r="5.4" fill="#ffdc00"/>
<circle cx="1850.2" cy="916.9" r="5.4" fill="#ffdf00"/>
<circle cx="1851.0" cy="915.0" r="5.4" fill="#ffe100"/>
<circle cx="1851.7" cy="913.0" r="5.4" fill="#ffe400"/>
<circle cx="1852.5" cy="911.1" r="5.4" fill="#ffe700"/>
<circle cx="1853.2" cy="909.1" r="5.4" fill="#ffe900"/>
<circle cx="1853.7" cy="907.3" r="5.4" fill="#ffeb00"/>
<circle cx="1854.2" cy="905.4" r="5.4" fill="#ffed00"/>
<circle cx="1854.7" cy="903.6" r="5.4" fill="#ffef00"/>
<circle cx="1855.2" cy="901.8" r="5.4" fill="#fff000"/>
<circle cx="1855.6" cy="899.9" r="5.4" fill="#fff200"/>
<circle cx="1856.1" cy="898.1" r="5.4" fill="#fff400"/>
<circle cx="1856.6" cy="896.2" r="5.4" fill="#fff600"/>
<circle cx="1857.1" cy="894.4" r="5.4" fill="#fff700"/>
<circle cx="1857.5" cy="892.4" r="5.4" fill="#fff900"/>
<circle cx="1857.8" cy="890.4" r="5.4" fill="#fffa00"/>
<circle cx="1858.2" cy="888.4" r="5.4" fill="#fffb00"/>
<circle cx="1858.5" cy="886.3" r="5.4" fill="#fffc00"/>
<circle cx="1858.9" cy="884.3" r="5.4" fill="#fffe00"/>
<circle cx="1859.2" cy="882.3" r="5.4" fill="#ffff00"/>
<circle cx="1859.6" cy="880.3" r="5.4" fill="#feff00"/>
<circle cx="1863.9" cy="921.7" r="5.4" fill="#eeff00"/>
<circle cx="1864.8" cy="920.0" r="5.4" fill="#ebff00"/>
<circle cx="1865.6" cy="918.3" r="5.4" fill="#e8ff00"/>
<circle cx="1866.5" cy="916.6" r="5.4" fill="#e5ff00"/>
<circle cx="1867.3" cy="914.9" r="5.4" fill="#e2ff00"/>
<circle cx="1868.2" cy="913.1" r="5.4" fill="#dfff00"/>
<circle cx="1869.1" cy="911.4" r="5.4" fill="#dcff00"/>
<circle cx="1869.9" cy="909.7" r="5.4" fill="#d9ff00"/>
<circle cx="1870.8" cy="908.0" r="5.4" fill="#d6ff00"/>
<circle cx="1871.5" cy="906.0" r="5.4" fill="#d3ff00"/>
<circle cx="1872.1" cy="904.1" r="5.4" fill="#d1ff00"/>
<circle cx="1872.8" cy="902.1" r="5.4" fill="#cfff00"/>
<circle cx="1873.4" cy="900.1" r="5.4" fill="#ccff00"/>
<circle cx="1874.0" cy="898.2" r="5.4" fill="#caff00"/>
<circle cx="1874.7" cy="896.2" r="5.4" fill="#c8ff00"/>
<circle cx="1875.2" cy="894.1" r="5.4" fill="#c6ff00"/>
<circle cx="1875.7" cy="891.9" r="5.4" fill="#c4ff00"/>
<circle cx="1876.1" cy="889.8" r="5.4" fill="#c3ff00"/>
<circle cx="1876.6" cy="887.6" r="5.4" fill="#c1ff00"/>
<circle cx="1877.1" cy="885.5" r="5.4" fill="#bfff00"/>
<circle cx="1877.6" cy="933.4" r="5.4" fill="#bdff00"/>
<circle cx="1879.0" cy="931.8" r="5.4" fill="#b8ff00"/>
<circle cx="1880.3" cy="930.3" r="5.4" fill="#b4ff00"/>
<circle cx="1881.7" cy="928.7" r="5.4" fill="#afff00"/>
<circle cx="1883.0" cy="927.2" r="5.4" fill="#aaff00"/>
<circle cx="1884.4" cy="925.6" r="5.4" fill="#a5ff00"/>
<circle cx="1885.1" cy="923.6" r="5.4" fill="#a3ff00"/>
<circle cx="1885.7" cy="921.7" r="5.4" fill="#a0ff00"/>
<circle cx="1886.3" cy="919.7" r="5.4" fill="#9eff00"/>
<circle cx="1887.0" cy="917.7" r="5.4" fill="#9cff00"/>
<circle cx="1887.7" cy="915.8" r="5.4" fill="#99ff00"/>
<circle cx="1888.3" cy="913.8" r="5.4" fill="#97ff00"/>
<circle cx="1889.0" cy="911.8" r="5.4" fill="#94ff00"/>
<circle cx="1889.8" cy="909.9" r="5.4" fill="#92ff00"/>
<circle cx="1890.5" cy="908.0" r="5.4" fill="#8fff00"/>
<circle cx="1891.3" cy="906.0" r="5.4" fill="#8cff00"/>
<circle cx="1892.5" cy="904.5" r="5.4" fill="#88ff00"/>
<circle cx="1893.7" cy="903.1" r="5.4" fill="#84ff00"/>
<circle cx="1894.9" cy="901.6" r="5.4" fill="#7fff00"/>
<circle cx="1896.2" cy="900.1" r="5.4" fill="#7bff00"/>
<circle cx="1897.4" cy="898.7" r="5.4" fill="#77ff00"/>
<circle cx="1898.6" cy="897.2" r="5.4" fill="#72ff00"/>
<circle cx="1901.1" cy="917.8" r="5.4" fill="#69ff00"/>
<circle cx="1902.4" cy="916.2" r="5.4" fill="#65ff00"/>
<circle cx="1903.7" cy="914.5" r="5.4" fill="#60ff00"/>
<circle cx="1905.0" cy="912.9" r="5.4" fill="#5bff00"/>
<circle cx="1906.3" cy="911.3" r="5.4" fill="#57ff00"/>
<circle cx="1907.6" cy="909.6" r="5.4" fill="#52ff00"/>
<circle cx="1908.9" cy="908.0" r="5.4" fill="#4dff00"/>
<circle cx="1909.6" cy="906.0" r="5.4" fill="#4bff00"/>
<circle cx="1910.2" cy="904.1" r="5.4" fill="#49ff00"/>
<circle cx="1910.8" cy="902.1" r="5.4" fill="#46ff00"/>
<circle cx="1911.5" cy="900.1" r="5.4" fill="#44ff00"/>
<circle cx="1912.2" cy="898.2" r="5.4" fill="#42ff00"/>
<circle cx="1912.8" cy="896.2" r="5.4" fill="#3fff00"/>
<circle cx="1913.4" cy="894.3" r="5.4" fill="#3dff00"/>
<circle cx="1914.0" cy="892.3" r="5.4" fill="#3bff00"/>
<circle cx="1914.5" cy="890.4" r="5.4" fill="#39ff00"/>
<circle cx="1915.1" cy="888.4" r="5.4" fill="#37ff00"/>
<circle cx="1915.7" cy="886.5" r="5.4" fill="#35ff00"/>
<circle cx="1916.5" cy="884.7" r="5.4" fill="#32ff00"/>
<circle cx="1917.3" cy="883.0" r="5.4" fill="#2fff00"/>
<circle cx="1918.0" cy="881.2" r="5.4" fill="#2dff00"/>
<circle cx="1918.8" cy="879.5" r="5.4" fill="#2aff00"/>
<circle cx="1919.6" cy="877.7" r="5.4" fill="#27ff00"/>
<circle cx="1921.1" cy="876.6" r="5.4" fill="#22ff00"/>
<circle cx="1922.5" cy="875.4" r="5.4" fill="#1dff00"/>
<circle cx="1924.0" cy="874.2" r="5.4" fill="#17ff00"/>
<circle cx="1925.5" cy="873.1" r="5.4" fill="#12ff00"/>
<circle cx="1926.9" cy="871.9" r="5.4" fill="#0dff00"/>
<circle cx="1928.4" cy="870.8" r="5.4" fill="#08ff00"/>
<circle cx="1929.9" cy="869.5" r="5.4" fill="#02ff00"/>
<circle cx="1931.3" cy="868.2" r="5.4" fill="#00ff03"/>
<circle cx="1932.8" cy="866.9" r="5.4" fill="#00ff08"/>
<circle cx="1934.3" cy="865.6" r="5.4" fill="#00ff0d"/>
<circle cx="1935.7" cy="864.3" r="5.4" fill="#00ff13"/>
<circle cx="1937.2" cy="863.0" r="5.4" fill="#00ff18"/>
<circle cx="1938.4" cy="861.3" r="5.4" fill="#00ff1c"/>
<circle cx="1939.7" cy="859.6" r="5.4" fill="#00ff21"/>
<circle cx="1940.9" cy="857.9" r="5.4" fill="#00ff25"/>
<circle cx="1942.1" cy="856.2" r="5.4" fill="#00ff29"/>
<circle cx="1942.7" cy="854.4" r="5.4" fill="#00ff2c"/>
<circle cx="1943.3" cy="852.7" r="5.4" fill="#00ff2e"/>
<circle cx="1943.8" cy="850.9" r="5.4" fill="#00ff30"/>
<circle cx="1944.4" cy="849.2" r="5.4" fill="#00ff32"/>
<circle cx="1945.0" cy="847.4" r="5.4" fill="#00ff34"/>
<circle cx="1946.3" cy="830.0" r="5.4" fill="#00ff39"/>
<circle cx="1946.9" cy="818.9" r="5.4" fill="#00ff3b"/>
<circle cx="1953.4" cy="818.9" r="5.4" fill="#00ff52"/>
<circle cx="1954.1" cy="808.4" r="5.4" fill="#00ff54"/>
<circle cx="1955.4" cy="793.8" r="5.4" fill="#00ff59"/>
<circle cx="1956.0" cy="776.5" r="5.4" fill="#00ff5b"/>
<circle cx="1958.0" cy="776.5" r="5.4" fill="#00ff62"/>
<circle cx="1960.0" cy="776.5" r="5.4" fill="#00ff69"/>
<circle cx="1962.0" cy="776.5" r="5.4" fill="#00ff71"/>
<circle cx="1963.9" cy="776.5" r="5.4" fill="#00ff78"/>
<circle cx="1965.9" cy="776.5" r="5.4" fill="#00ff7f"/>
<circle cx="1967.9" cy="776.5" r="5.4" fill="#00ff86"/>
<circle cx="1969.9" cy="776.5" r="5.4" fill="#00ff8d"/>
<circle cx="1971.9" cy="776.5" r="5.4" fill="#00ff94"/>
<circle cx="1973.8" cy="776.5" r="5.4" fill="#00ff9b"/>
<circle cx="1975.8" cy="776.5" r="5.4" fill="#00ffa2"/>
<circle cx="1977.8" cy="776.5" r="5.4" fill="#00ffa9"/>
<circle cx="1979.8" cy="776.5" r="5.4" fill="#00ffb0"/>
<circle cx="1980.3" cy="754.4" r="5.4" fill="#00ffb2"/>
<circle cx="1982.2" cy="754.4" r="5.4" fill="#00ffb9"/>
<circle cx="1984.0" cy="754.4" r="5.4" fill="#00ffc0"/>
<circle cx="1985.9" cy="754.4" r="5.4" fill="#00ffc6"/>
<circle cx="1987.7" cy="754.4" r="5.4" fill="#00ffcd"/>
<circle cx="1989.6" cy="754.4" r="5.4" fill="#00ffd3"/>
<circle cx="1990.3" cy="727.5" r="5.4" fill="#00ffd6"/>
<circle cx="1992.3" cy="727.5" r="5.4" fill="#00ffdd"/>
<circle cx="1994.3" cy="727.5" r="5.4" fill="#00ffe4"/>
<circle cx="1996.3" cy="727.5" r="5.4" fill="#00ffeb"/>
<circle cx="1998.2" cy="727.5" r="5.4" fill="#00fff2"/>
<circle cx="2000.2" cy="727.5" r="5.4" fill="#00fffa"/>
<circle cx="2002.2" cy="727.5" r="5.4" fill="#00fdff"/>
<circle cx="2004.2" cy="727.5" r="5.4" fill="#00f6ff"/>
<circle cx="2006.2" cy="727.5" r="5.4" fill="#00efff"/>
<circle cx="2008.2" cy="727.5" r="5.4" fill="#00e8ff"/>
<circle cx="2010.2" cy="727.5" r="5.4" fill="#00e1ff"/>
<circle cx="2012.2" cy="727.5" r="5.4" fill="#00daff"/>
<circle cx="2014.1" cy="727.5" r="5.4" fill="#00d3ff"/>
<circle cx="2016.1" cy="727.5" r="5.4" fill="#00ccff"/>
<circle cx="2018.1" cy="727.5" r="5.4" fill="#00c4ff"/>
<circle cx="2020.1" cy="727.5" r="5.4" fill="#00bdff"/>
<circle cx="2022.1" cy="727.5" r="5.4" fill="#00b6ff"/>
<circle cx="2024.1" cy="727.5" r="5.4" fill="#00afff"/>
<circle cx="2026.1" cy="727.5" r="5.4" fill="#00a8ff"/>
<circle cx="2028.1" cy="727.5" r="5.4" fill="#00a1ff"/>
<circle cx="2030.0" cy="727.5" r="5.4" fill="#009aff"/>
<circle cx="2032.0" cy="727.5" r="5.4" fill="#0093ff"/>
<circle cx="2034.0" cy="727.5" r="5.4" fill="#008cff"/>
<circle cx="2036.0" cy="727.5" r="5.4" fill="#0084ff"/>
<circle cx="2038.0" cy="727.5" r="5.4" fill="#007dff"/>
<circle cx="2040.0" cy="727.5" r="5.4" fill="#0076ff"/>
<circle cx="2042.0" cy="727.5" r="5.4" fill="#006fff"/>
<circle cx="2044.0" cy="727.5" r="5.4" fill="#0068ff"/>
<circle cx="2045.9" cy="727.5" r="5.4" fill="#0061ff"/>
<circle cx="2047.9" cy="727.5" r="5.4" fill="#005aff"/>
<circle cx="2049.9" cy="727.5" r="5.4" fill="#0053ff"/>
<circle cx="2051.9" cy="727.5" r="5.4" fill="#004cff"/>
<circle cx="2053.9" cy="727.5" r="5.4" fill="#0044ff"/>
<circle cx="2055.9" cy="727.5" r="5.4" fill="#003dff"/>
<circle cx="2057.9" cy="727.5" r="5.4" fill="#0036ff"/>
<circle cx="2059.9" cy="727.5" r="5.4" fill="#002fff"/>
<circle cx="2061.8" cy="727.5" r="5.4" fill="#0028ff"/>
<circle cx="2063.8" cy="727.5" r="5.4" fill="#0021ff"/>
<circle cx="2065.8" cy="727.5" r="5.4" fill="#001aff"/>
<circle cx="2067.8" cy="727.5" r="5.4" fill="#0013ff"/>
<circle cx="2069.8" cy="727.5" r="5.4" fill="#000cff"/>
<circle cx="2071.8" cy="727.5" r="5.4" fill="#0004ff"/>
<circle cx="2073.8" cy="727.5" r="5.4" fill="#0300ff"/>
<circle cx="2075.8" cy="727.5" r="5.4" fill="#0a00ff"/>
<circle cx="2077.7" cy="727.5" r="5.4" fill="#1100ff"/>
<circle cx="2079.7" cy="727.5" r="5.4" fill="#1800ff"/>
<circle cx="2081.7" cy="727.5" r="5.4" fill="#1f00ff"/>
<circle cx="2083.7" cy="727.5" r="5.4" fill="#2600ff"/>
<circle cx="2085.7" cy="727.5" r="5.4" fill="#2d00ff"/>
<circle cx="2087.7" cy="727.5" r="5.4" fill="#3400ff"/>
<circle cx="2089.7" cy="727.5" r="5.4" fill="#3c00ff"/>
<circle cx="2091.7" cy="727.5" r="5.4" fill="#4300ff"/>
<circle cx="2093.6" cy="727.5" r="5.4" fill="#4a00ff"/>
<circle cx="2095.6" cy="727.5" r="5.4" fill="#5100ff"/>
<circle cx="2097.6" cy="727.5" r="5.4" fill="#5800ff"/>
<circle cx="2099.6" cy="727.5" r="5.4" fill="#5f00ff"/>
<circle cx="2101.6" cy="727.5" r="5.4" fill="#6600ff"/>
<circle cx="2103.6" cy="727.5" r="5.4" fill="#6d00ff"/>
<circle cx="2105.6" cy="727.5" r="5.4" fill="#7400ff"/>
<circle cx="2107.6" cy="727.5" r="5.4" fill="#7c00ff"/>
<circle cx="2109.5" cy="727.5" r="5.4" fill="#8300ff"/>
<circle cx="2111.5" cy="727.5" r="5.4" fill="#8a00ff"/>
<circle cx="2113.5" cy="727.5" r="5.4" fill="#9100ff"/>
<circle cx="2115.5" cy="727.5" r="5.4" fill="#9800ff"/>
<circle cx="2116.4" cy="692.2" r="5.4" fill="#9b00ff"/>
<circle cx="2118.0" cy="692.2" r="5.4" fill="#a100ff"/>
<circle cx="2119.6" cy="692.2" r="5.4" fill="#a700ff"/>
<circle cx="2120.5" cy="645.3" r="5.4" fill="#aa00ff"/>
<circle cx="2122.6" cy="645.3" r="5.4" fill="#b100ff"/>
<circle cx="2124.7" cy="645.3" r="5.4" fill="#b900ff"/>
<circle cx="2126.7" cy="645.3" r="5.4" fill="#c000ff"/>
<circle cx="2128.8" cy="645.3" r="5.4" fill="#c800ff"/>
<circle cx="2130.9" cy="645.3" r="5.4" fill="#cf00ff"/>
<circle cx="2133.0" cy="645.3" r="5.4" fill="#d700ff"/>
<circle cx="2135.1" cy="645.3" r="5.4" fill="#de00ff"/>
<circle cx="2137.2" cy="645.3" r="5.4" fill="#e600ff"/>
<circle cx="2139.2" cy="645.3" r="5.4" fill="#ed00ff"/>
<circle cx="2141.3" cy="645.3" r="5.4" fill="#f400ff"/>
<circle cx="2143.4" cy="645.3" r="5.4" fill="#fc00ff"/>
<circle cx="2144.2" cy="579.7" r="5.4" fill="#ff00ff"/>
<circle cx="2146.2" cy="579.7" r="5.4" fill="#ff00f8"/>
<circle cx="2148.2" cy="579.7" r="5.4" fill="#ff00f1"/>
<circle cx="2150.2" cy="579.7" r="5.4" fill="#ff00ea"/>
<circle cx="2152.2" cy="579.7" r="5.4" fill="#ff00e2"/>
<circle cx="2154.3" cy="579.7" r="5.4" fill="#ff00db"/>
<circle cx="2156.3" cy="579.7" r="5.4" fill="#ff00d4"/>
<circle cx="2158.3" cy="579.7" r="5.4" fill="#ff00cd"/>
<circle cx="2160.3" cy="579.7" r="5.4" fill="#ff00c6"/>
<circle cx="2162.3" cy="579.7" r="5.4" fill="#ff00be"/>
<circle cx="2164.3" cy="579.7" r="5.4" fill="#ff00b7"/>
<circle cx="2166.3" cy="579.7" r="5.4" fill="#ff00b0"/>
<circle cx="2168.3" cy="579.7" r="5.4" fill="#ff00a9"/>
<circle cx="2170.3" cy="579.7" r="5.4" fill="#ff00a2"/>
<circle cx="2172.4" cy="579.7" r="5.4" fill="#ff009a"/>
<circle cx="2174.4" cy="579.7" r="5.4" fill="#ff0093"/>
<circle cx="2176.4" cy="579.7" r="5.4" fill="#ff008c"/>
<circle cx="2178.4" cy="579.7" r="5.4" fill="#ff0085"/>
<circle cx="2180.4" cy="579.7" r="5.4" fill="#ff007e"/>
<circle cx="2182.4" cy="579.7" r="5.4" fill="#ff0076"/>
<circle cx="2184.4" cy="579.7" r="5.4" fill="#ff006f"/>
<circle cx="2186.4" cy="579.7" r="5.4" fill="#ff0068"/>
<circle cx="2188.5" cy="579.7" r="5.4" fill="#ff0061"/>
<circle cx="2190.5" cy="579.7" r="5.4" fill="#ff005a"/>
<circle cx="2192.5" cy="579.7" r="5.4" fill="#ff0052"/>
<circle cx="2194.5" cy="579.7" r="5.4" fill="#ff004b"/>
<circle cx="2196.5" cy="579.7" r="5.4" fill="#ff0044"/>
<circle cx="2198.5" cy="579.7" r="5.4" fill="#ff003d"/>
<circle cx="2200.5" cy="579.7" r="5.4" fill="#ff0036"/>
<circle cx="2202.5" cy="579.7" r="5.4" fill="#ff002e"/>
<circle cx="2204.5" cy="579.7" r="5.4" fill="#ff0027"/>
<circle cx="2206.6" cy="579.7" r="5.4" fill="#ff0020"/>
<circle cx="2208.6" cy="579.7" r="5.4" fill="#ff0019"/>
<circle cx="2210.6" cy="579.7" r="5.4" fill="#ff0012"/>
<circle cx="2212.6" cy="579.7" r="5.4" fill="#ff000a"/>
<circle cx="2214.6" cy="579.7" r="5.4" fill="#ff0003"/>
<text x="697.0" y="1024.5" font-size="44" text-anchor="middle">0</text>
<text x="836.3" y="1024.5" font-size="44" text-anchor="middle"><tspan letter-spacing="-2.5">1</tspan>0</text>
<text x="975.6" y="1024.5" font-size="44" text-anchor="middle">20</text>
<text x="1114.9" y="1024.5" font-size="44" text-anchor="middle">30</text>
<text transform="translate(672.2,976.4) rotate(-90)" x="0" y="0" font-size="44" text-anchor="middle">0</text>
<text transform="translate(672.2,886.2) rotate(-90)" x="0" y="0" font-size="44" text-anchor="middle">5</text>
<text transform="translate(672.2,796.0) rotate(-90)" x="0" y="0" font-size="44" text-anchor="middle"><tspan letter-spacing="-2.5">1</tspan>0</text>
<text transform="translate(672.2,705.8) rotate(-90)" x="0" y="0" font-size="44" text-anchor="middle"><tspan letter-spacing="-2.5">1</tspan>5</text>
<text transform="translate(672.2,615.6) rotate(-90)" x="0" y="0" font-size="44" text-anchor="middle">20</text>
<text x="1788.5" y="1024.5" font-size="44" text-anchor="middle">0</text>
<text x="1895.4" y="1024.5" font-size="44" text-anchor="middle">20</text>
<text x="2002.3" y="1024.5" font-size="44" text-anchor="middle">40</text>
<text x="2109.1" y="1024.5" font-size="44" text-anchor="middle">60</text>
<text x="2216.0" y="1024.5" font-size="44" text-anchor="middle">80</text>
<text transform="translate(1763.3,972.2) rotate(-90)" x="0" y="0" font-size="44" text-anchor="middle">0</text>
<text transform="translate(1763.3,841.5) rotate(-90)" x="0" y="0" font-size="44" text-anchor="middle">40</text>
<text transform="translate(1763.3,710.8) rotate(-90)" x="0" y="0" font-size="44" text-anchor="middle">80</text>
<text transform="translate(1763.3,580.1) rotate(-90)" x="0" y="0" font-size="44" text-anchor="middle"><tspan letter-spacing="-2.5">1</tspan>20</text>
<text transform="translate(628.7,775.1) rotate(-90)" font-size="43" letter-spacing="0" text-anchor="middle">&lt;A&gt;<tspan font-size="24" dy="-26">*</tspan><tspan dy="26"> [km</tspan><tspan font-size="31" dy="-21.5">2</tspan><tspan dy="21.5">]</tspan></text>
<text transform="translate(1719.5,775.1) rotate(-90)" font-size="43" letter-spacing="0" text-anchor="middle">&lt;A&gt;<tspan font-size="24" dy="-26">*</tspan><tspan dy="26"> [km</tspan><tspan font-size="31" dy="-21.5">2</tspan><tspan dy="21.5">]</tspan></text>
<text x="910" y="1056.6" font-size="44" letter-spacing="-0.5" text-anchor="middle">l [km]</text>
<text x="2001" y="1056.6" font-size="44" letter-spacing="-0.5" text-anchor="middle">l [km]</text>
</svg>
</body></html>
